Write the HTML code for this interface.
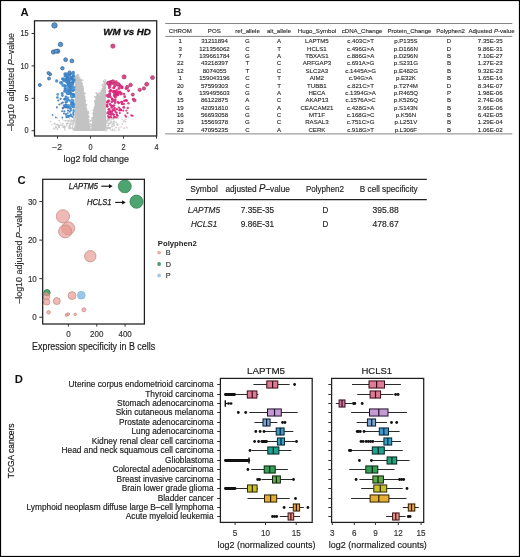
<!DOCTYPE html>
<html><head><meta charset="utf-8"><style>
html,body{margin:0;padding:0;background:#fff;}
svg{display:block;font-family:"Liberation Sans", sans-serif;will-change:transform;}
</style></head><body>
<svg width="520" height="557" viewBox="0 0 520 557">
<rect x="0" y="0" width="520" height="557" fill="#fff"/>
<text x="20.6" y="15.6" font-size="11.3" text-anchor="start" font-weight="bold" font-style="normal" fill="#111">A</text>
<text x="173.3" y="15.8" font-size="11.3" text-anchor="start" font-weight="bold" font-style="normal" fill="#111">B</text>
<text x="17.5" y="183.5" font-size="11.3" text-anchor="start" font-weight="bold" font-style="normal" fill="#111">C</text>
<text x="14.8" y="383.0" font-size="11.3" text-anchor="start" font-weight="bold" font-style="normal" fill="#111">D</text>
<polygon points="74.7,131 74.7,77.5 76.3,75.5 78.3,76.5 80.5,79 82.3,82.5 83.5,89 84.8,98 86.5,107 88.3,116 89.6,123 90.4,129.5 91.2,129.5 92.2,122 93.3,114 94.6,105 95.6,98 96.6,93.5 97.6,92.5 98.6,94.5 99.6,96 101.2,92 102.8,87.5 104.2,83 105.4,80 106.2,79.5 106.2,131" fill="#c3c3c3"/>
<circle cx="75.9" cy="76.1" r="0.69" fill="#c4c4c4"/>
<circle cx="74.5" cy="76.9" r="0.93" fill="#c4c4c4"/>
<circle cx="75.5" cy="76.2" r="0.71" fill="#c4c4c4"/>
<circle cx="76.2" cy="75.7" r="0.82" fill="#c4c4c4"/>
<circle cx="78.0" cy="75.2" r="1.00" fill="#c4c4c4"/>
<circle cx="78.6" cy="76.2" r="0.62" fill="#c4c4c4"/>
<circle cx="78.2" cy="74.8" r="0.97" fill="#c4c4c4"/>
<circle cx="79.8" cy="77.0" r="0.70" fill="#c4c4c4"/>
<circle cx="79.8" cy="78.5" r="0.68" fill="#c4c4c4"/>
<circle cx="81.1" cy="80.9" r="0.66" fill="#c4c4c4"/>
<circle cx="81.1" cy="80.0" r="0.94" fill="#c4c4c4"/>
<circle cx="82.6" cy="80.2" r="0.82" fill="#c4c4c4"/>
<circle cx="82.5" cy="87.2" r="0.84" fill="#c4c4c4"/>
<circle cx="82.4" cy="83.3" r="0.66" fill="#c4c4c4"/>
<circle cx="83.2" cy="88.3" r="0.84" fill="#c4c4c4"/>
<circle cx="83.2" cy="86.1" r="0.66" fill="#c4c4c4"/>
<circle cx="82.4" cy="85.2" r="0.64" fill="#c4c4c4"/>
<circle cx="82.5" cy="88.2" r="0.72" fill="#c4c4c4"/>
<circle cx="84.3" cy="96.8" r="0.94" fill="#c4c4c4"/>
<circle cx="84.5" cy="97.2" r="0.66" fill="#c4c4c4"/>
<circle cx="83.5" cy="90.5" r="0.67" fill="#c4c4c4"/>
<circle cx="84.5" cy="96.2" r="0.75" fill="#c4c4c4"/>
<circle cx="84.9" cy="93.2" r="0.95" fill="#c4c4c4"/>
<circle cx="83.9" cy="93.9" r="0.90" fill="#c4c4c4"/>
<circle cx="82.6" cy="89.5" r="0.65" fill="#c4c4c4"/>
<circle cx="84.5" cy="97.1" r="0.81" fill="#c4c4c4"/>
<circle cx="85.7" cy="105.4" r="0.87" fill="#c4c4c4"/>
<circle cx="85.3" cy="101.1" r="0.96" fill="#c4c4c4"/>
<circle cx="84.3" cy="99.3" r="0.90" fill="#c4c4c4"/>
<circle cx="86.4" cy="104.7" r="0.93" fill="#c4c4c4"/>
<circle cx="84.9" cy="97.7" r="0.81" fill="#c4c4c4"/>
<circle cx="85.2" cy="104.8" r="0.75" fill="#c4c4c4"/>
<circle cx="83.9" cy="100.1" r="0.83" fill="#c4c4c4"/>
<circle cx="85.5" cy="100.0" r="0.78" fill="#c4c4c4"/>
<circle cx="88.2" cy="115.6" r="0.96" fill="#c4c4c4"/>
<circle cx="88.6" cy="113.3" r="0.95" fill="#c4c4c4"/>
<circle cx="86.8" cy="109.8" r="0.77" fill="#c4c4c4"/>
<circle cx="88.1" cy="111.7" r="0.92" fill="#c4c4c4"/>
<circle cx="87.3" cy="113.1" r="0.73" fill="#c4c4c4"/>
<circle cx="86.3" cy="110.0" r="0.69" fill="#c4c4c4"/>
<circle cx="87.4" cy="115.5" r="0.79" fill="#c4c4c4"/>
<circle cx="87.4" cy="111.9" r="0.98" fill="#c4c4c4"/>
<circle cx="88.9" cy="119.3" r="0.67" fill="#c4c4c4"/>
<circle cx="88.0" cy="116.3" r="0.93" fill="#c4c4c4"/>
<circle cx="90.2" cy="120.8" r="0.92" fill="#c4c4c4"/>
<circle cx="89.1" cy="121.8" r="0.62" fill="#c4c4c4"/>
<circle cx="88.2" cy="116.2" r="0.70" fill="#c4c4c4"/>
<circle cx="88.8" cy="116.9" r="0.84" fill="#c4c4c4"/>
<circle cx="90.4" cy="124.0" r="0.72" fill="#c4c4c4"/>
<circle cx="90.9" cy="129.7" r="0.86" fill="#c4c4c4"/>
<circle cx="89.2" cy="127.6" r="0.62" fill="#c4c4c4"/>
<circle cx="91.6" cy="129.2" r="0.62" fill="#c4c4c4"/>
<circle cx="90.4" cy="124.5" r="0.85" fill="#c4c4c4"/>
<circle cx="89.1" cy="126.7" r="0.92" fill="#c4c4c4"/>
<circle cx="90.3" cy="129.5" r="0.68" fill="#c4c4c4"/>
<circle cx="91.7" cy="124.5" r="0.64" fill="#c4c4c4"/>
<circle cx="91.8" cy="124.8" r="0.92" fill="#c4c4c4"/>
<circle cx="90.8" cy="126.4" r="0.96" fill="#c4c4c4"/>
<circle cx="91.6" cy="128.5" r="0.69" fill="#c4c4c4"/>
<circle cx="92.4" cy="125.2" r="0.70" fill="#c4c4c4"/>
<circle cx="91.3" cy="126.6" r="0.75" fill="#c4c4c4"/>
<circle cx="91.1" cy="129.3" r="0.75" fill="#c4c4c4"/>
<circle cx="92.1" cy="117.6" r="0.70" fill="#c4c4c4"/>
<circle cx="92.2" cy="120.3" r="0.90" fill="#c4c4c4"/>
<circle cx="92.2" cy="118.2" r="0.91" fill="#c4c4c4"/>
<circle cx="92.3" cy="121.0" r="0.63" fill="#c4c4c4"/>
<circle cx="93.3" cy="114.0" r="0.93" fill="#c4c4c4"/>
<circle cx="93.6" cy="116.2" r="0.95" fill="#c4c4c4"/>
<circle cx="91.7" cy="120.2" r="0.89" fill="#c4c4c4"/>
<circle cx="94.8" cy="107.3" r="0.75" fill="#c4c4c4"/>
<circle cx="93.3" cy="113.5" r="0.68" fill="#c4c4c4"/>
<circle cx="93.5" cy="112.4" r="0.96" fill="#c4c4c4"/>
<circle cx="94.5" cy="112.5" r="0.86" fill="#c4c4c4"/>
<circle cx="95.3" cy="108.2" r="0.94" fill="#c4c4c4"/>
<circle cx="94.4" cy="107.2" r="0.67" fill="#c4c4c4"/>
<circle cx="94.3" cy="108.2" r="0.78" fill="#c4c4c4"/>
<circle cx="93.4" cy="110.2" r="0.94" fill="#c4c4c4"/>
<circle cx="95.2" cy="101.0" r="0.89" fill="#c4c4c4"/>
<circle cx="95.6" cy="102.1" r="0.75" fill="#c4c4c4"/>
<circle cx="94.8" cy="102.9" r="0.66" fill="#c4c4c4"/>
<circle cx="95.9" cy="99.5" r="0.65" fill="#c4c4c4"/>
<circle cx="95.8" cy="104.1" r="0.83" fill="#c4c4c4"/>
<circle cx="95.0" cy="101.2" r="0.97" fill="#c4c4c4"/>
<circle cx="95.6" cy="96.9" r="0.79" fill="#c4c4c4"/>
<circle cx="94.8" cy="97.1" r="0.89" fill="#c4c4c4"/>
<circle cx="96.8" cy="97.0" r="0.96" fill="#c4c4c4"/>
<circle cx="97.9" cy="93.7" r="0.69" fill="#c4c4c4"/>
<circle cx="96.3" cy="93.4" r="0.65" fill="#c4c4c4"/>
<circle cx="96.1" cy="92.7" r="0.67" fill="#c4c4c4"/>
<circle cx="98.1" cy="94.0" r="0.71" fill="#c4c4c4"/>
<circle cx="98.1" cy="93.7" r="0.76" fill="#c4c4c4"/>
<circle cx="100.7" cy="96.1" r="0.65" fill="#c4c4c4"/>
<circle cx="99.0" cy="93.3" r="0.69" fill="#c4c4c4"/>
<circle cx="101.6" cy="92.0" r="0.80" fill="#c4c4c4"/>
<circle cx="100.6" cy="92.8" r="0.84" fill="#c4c4c4"/>
<circle cx="99.2" cy="94.9" r="0.95" fill="#c4c4c4"/>
<circle cx="100.0" cy="93.0" r="0.88" fill="#c4c4c4"/>
<circle cx="103.3" cy="88.9" r="0.72" fill="#c4c4c4"/>
<circle cx="101.4" cy="91.0" r="0.97" fill="#c4c4c4"/>
<circle cx="101.1" cy="89.9" r="0.66" fill="#c4c4c4"/>
<circle cx="102.7" cy="88.5" r="0.83" fill="#c4c4c4"/>
<circle cx="104.2" cy="83.6" r="0.88" fill="#c4c4c4"/>
<circle cx="102.9" cy="84.0" r="0.77" fill="#c4c4c4"/>
<circle cx="102.4" cy="85.3" r="0.87" fill="#c4c4c4"/>
<circle cx="102.8" cy="86.4" r="0.63" fill="#c4c4c4"/>
<circle cx="105.0" cy="81.9" r="0.79" fill="#c4c4c4"/>
<circle cx="103.5" cy="81.5" r="0.89" fill="#c4c4c4"/>
<circle cx="105.1" cy="83.0" r="0.97" fill="#c4c4c4"/>
<circle cx="105.1" cy="79.9" r="0.82" fill="#c4c4c4"/>
<circle cx="121.3" cy="126.9" r="0.67" fill="#e3cfd6"/>
<circle cx="69.8" cy="123.6" r="0.86" fill="#e3cfd6"/>
<circle cx="54.2" cy="123.4" r="0.82" fill="#e3cfd6"/>
<circle cx="123.5" cy="120.9" r="0.74" fill="#cfcfcf"/>
<circle cx="55.8" cy="124.6" r="0.76" fill="#e3cfd6"/>
<circle cx="61.9" cy="125.2" r="0.89" fill="#cfcfcf"/>
<circle cx="54.7" cy="123.7" r="0.85" fill="#cfcfcf"/>
<circle cx="116.1" cy="117.8" r="0.80" fill="#cfcfcf"/>
<circle cx="123.5" cy="121.7" r="0.75" fill="#cfcfcf"/>
<circle cx="113.7" cy="125.9" r="0.75" fill="#e3cfd6"/>
<circle cx="117.6" cy="124.8" r="0.80" fill="#e3cfd6"/>
<circle cx="52.1" cy="124.7" r="0.69" fill="#e3cfd6"/>
<circle cx="57.3" cy="129.0" r="0.90" fill="#cfcfcf"/>
<circle cx="62.2" cy="127.2" r="0.75" fill="#e3cfd6"/>
<circle cx="62.7" cy="119.1" r="0.76" fill="#cfcfcf"/>
<circle cx="120.1" cy="127.2" r="0.71" fill="#e3cfd6"/>
<circle cx="107.6" cy="119.6" r="0.89" fill="#cfcfcf"/>
<circle cx="107.8" cy="120.3" r="0.69" fill="#e3cfd6"/>
<circle cx="58.5" cy="126.4" r="0.77" fill="#cfcfcf"/>
<circle cx="58.7" cy="127.2" r="0.94" fill="#cfcfcf"/>
<circle cx="112.7" cy="129.1" r="0.75" fill="#e3cfd6"/>
<circle cx="56.7" cy="127.3" r="0.65" fill="#cfcfcf"/>
<circle cx="118.7" cy="116.9" r="0.83" fill="#e3cfd6"/>
<circle cx="125.8" cy="119.4" r="0.72" fill="#cfcfcf"/>
<circle cx="118.7" cy="128.0" r="0.75" fill="#e3cfd6"/>
<circle cx="71.4" cy="128.1" r="0.66" fill="#cfcfcf"/>
<circle cx="106.8" cy="127.4" r="0.66" fill="#cfcfcf"/>
<circle cx="106.6" cy="123.5" r="0.66" fill="#cfcfcf"/>
<circle cx="110.9" cy="121.3" r="0.74" fill="#cfcfcf"/>
<circle cx="127.1" cy="127.8" r="0.92" fill="#e3cfd6"/>
<circle cx="107.4" cy="120.6" r="0.81" fill="#e3cfd6"/>
<circle cx="111.6" cy="116.5" r="0.91" fill="#cfcfcf"/>
<circle cx="74.0" cy="118.2" r="0.92" fill="#e3cfd6"/>
<circle cx="59.2" cy="120.6" r="0.84" fill="#cfcfcf"/>
<circle cx="59.3" cy="125.3" r="0.78" fill="#cfcfcf"/>
<circle cx="124.7" cy="120.2" r="0.75" fill="#e3cfd6"/>
<circle cx="114.8" cy="128.9" r="0.65" fill="#cfcfcf"/>
<circle cx="113.9" cy="123.7" r="0.92" fill="#cfcfcf"/>
<circle cx="57.4" cy="117.9" r="0.74" fill="#cfcfcf"/>
<circle cx="126.3" cy="126.6" r="0.65" fill="#e3cfd6"/>
<circle cx="69.4" cy="126.2" r="0.93" fill="#cfcfcf"/>
<circle cx="124.1" cy="128.2" r="0.89" fill="#cfcfcf"/>
<circle cx="107.1" cy="122.2" r="0.90" fill="#cfcfcf"/>
<circle cx="113.2" cy="119.2" r="0.81" fill="#cfcfcf"/>
<circle cx="117.8" cy="117.8" r="0.70" fill="#e3cfd6"/>
<circle cx="122.4" cy="119.5" r="0.73" fill="#e3cfd6"/>
<circle cx="64.9" cy="129.7" r="0.94" fill="#e3cfd6"/>
<circle cx="111.4" cy="119.6" r="0.70" fill="#cfcfcf"/>
<circle cx="63.4" cy="125.9" r="0.71" fill="#cfcfcf"/>
<circle cx="111.8" cy="126.2" r="0.66" fill="#cfcfcf"/>
<circle cx="111.7" cy="119.5" r="0.92" fill="#cfcfcf"/>
<circle cx="60.2" cy="122.8" r="0.63" fill="#cfcfcf"/>
<circle cx="118.3" cy="118.6" r="0.62" fill="#cfcfcf"/>
<circle cx="128.3" cy="117.7" r="0.60" fill="#cfcfcf"/>
<circle cx="55.4" cy="129.0" r="0.69" fill="#e3cfd6"/>
<circle cx="62.8" cy="123.6" r="0.94" fill="#cfcfcf"/>
<circle cx="64.8" cy="127.9" r="0.63" fill="#cfcfcf"/>
<circle cx="50.4" cy="121.8" r="0.83" fill="#cfcfcf"/>
<circle cx="125.4" cy="121.7" r="0.88" fill="#cfcfcf"/>
<circle cx="111.2" cy="121.7" r="0.77" fill="#cfcfcf"/>
<circle cx="114.1" cy="125.1" r="0.86" fill="#c8c8c8"/>
<circle cx="70.3" cy="124.1" r="1.03" fill="#d6d6d6"/>
<circle cx="74.1" cy="130.6" r="0.78" fill="#c8c8c8"/>
<circle cx="112.5" cy="124.5" r="1.00" fill="#c8c8c8"/>
<circle cx="74.4" cy="129.0" r="0.82" fill="#d6d6d6"/>
<circle cx="59.1" cy="127.1" r="0.90" fill="#c8c8c8"/>
<circle cx="70.0" cy="127.9" r="0.89" fill="#c8c8c8"/>
<circle cx="112.2" cy="126.5" r="0.80" fill="#c8c8c8"/>
<circle cx="106.9" cy="127.4" r="0.80" fill="#c8c8c8"/>
<circle cx="75.4" cy="121.9" r="0.75" fill="#d6d6d6"/>
<circle cx="105.5" cy="129.1" r="1.08" fill="#c8c8c8"/>
<circle cx="117.4" cy="124.8" r="0.93" fill="#d6d6d6"/>
<circle cx="122.4" cy="124.0" r="1.01" fill="#d6d6d6"/>
<circle cx="108.5" cy="116.9" r="0.85" fill="#d6d6d6"/>
<circle cx="59.3" cy="127.6" r="0.76" fill="#c8c8c8"/>
<circle cx="116.2" cy="122.2" r="0.79" fill="#c8c8c8"/>
<circle cx="72.5" cy="126.1" r="0.77" fill="#c8c8c8"/>
<circle cx="107.7" cy="121.2" r="0.86" fill="#c8c8c8"/>
<circle cx="66.7" cy="123.7" r="0.98" fill="#c8c8c8"/>
<circle cx="110.6" cy="127.7" r="0.81" fill="#c8c8c8"/>
<circle cx="110.1" cy="122.9" r="0.98" fill="#c8c8c8"/>
<circle cx="73.4" cy="122.4" r="0.78" fill="#c8c8c8"/>
<circle cx="74.9" cy="127.6" r="0.70" fill="#c8c8c8"/>
<circle cx="110.7" cy="130.0" r="0.71" fill="#c8c8c8"/>
<circle cx="73.9" cy="129.3" r="1.06" fill="#c8c8c8"/>
<circle cx="58.4" cy="125.4" r="0.95" fill="#c8c8c8"/>
<circle cx="74.3" cy="122.0" r="0.71" fill="#d6d6d6"/>
<circle cx="73.8" cy="118.6" r="0.88" fill="#c8c8c8"/>
<circle cx="75.2" cy="120.8" r="0.82" fill="#c8c8c8"/>
<circle cx="62.5" cy="123.8" r="1.05" fill="#d6d6d6"/>
<circle cx="74.8" cy="129.1" r="1.10" fill="#c8c8c8"/>
<circle cx="72.9" cy="124.2" r="1.08" fill="#c8c8c8"/>
<circle cx="74.6" cy="120.0" r="0.78" fill="#d6d6d6"/>
<circle cx="64.3" cy="126.2" r="0.92" fill="#c8c8c8"/>
<circle cx="69.2" cy="127.3" r="0.92" fill="#c8c8c8"/>
<circle cx="69.8" cy="128.5" r="1.08" fill="#c8c8c8"/>
<circle cx="57.1" cy="124.6" r="0.99" fill="#c8c8c8"/>
<circle cx="114.2" cy="121.6" r="0.85" fill="#c8c8c8"/>
<circle cx="73.4" cy="129.5" r="1.08" fill="#d6d6d6"/>
<circle cx="113.6" cy="118.8" r="1.05" fill="#d6d6d6"/>
<circle cx="108.2" cy="123.6" r="0.75" fill="#c8c8c8"/>
<circle cx="114.9" cy="130.5" r="0.75" fill="#c8c8c8"/>
<circle cx="110.0" cy="128.1" r="0.82" fill="#c8c8c8"/>
<circle cx="71.2" cy="120.6" r="1.06" fill="#c8c8c8"/>
<circle cx="73.6" cy="129.2" r="1.10" fill="#c8c8c8"/>
<circle cx="68.7" cy="128.1" r="0.73" fill="#c8c8c8"/>
<circle cx="114.2" cy="121.5" r="0.92" fill="#c8c8c8"/>
<circle cx="73.6" cy="118.1" r="0.90" fill="#c8c8c8"/>
<circle cx="108.8" cy="127.8" r="0.99" fill="#c8c8c8"/>
<circle cx="71.4" cy="121.4" r="0.91" fill="#d6d6d6"/>
<circle cx="65.8" cy="120.8" r="0.98" fill="#c8c8c8"/>
<circle cx="113.4" cy="118.1" r="0.73" fill="#c8c8c8"/>
<circle cx="69.3" cy="126.5" r="0.94" fill="#d6d6d6"/>
<circle cx="112.5" cy="130.0" r="1.08" fill="#c8c8c8"/>
<circle cx="109.0" cy="119.9" r="1.06" fill="#c8c8c8"/>
<circle cx="74.0" cy="128.6" r="0.82" fill="#c8c8c8"/>
<circle cx="109.6" cy="123.5" r="0.88" fill="#d6d6d6"/>
<circle cx="74.4" cy="119.9" r="0.99" fill="#c8c8c8"/>
<circle cx="70.7" cy="121.9" r="0.71" fill="#c8c8c8"/>
<circle cx="70.3" cy="123.9" r="0.96" fill="#c8c8c8"/>
<circle cx="74.7" cy="129.9" r="0.85" fill="#c8c8c8"/>
<circle cx="112.8" cy="124.9" r="1.05" fill="#d6d6d6"/>
<circle cx="64.1" cy="120.8" r="0.75" fill="#d6d6d6"/>
<circle cx="55.8" cy="127.0" r="1.01" fill="#c8c8c8"/>
<circle cx="107.4" cy="128.9" r="0.89" fill="#c8c8c8"/>
<circle cx="67.7" cy="123.2" r="1.02" fill="#c8c8c8"/>
<circle cx="75.5" cy="125.5" r="0.86" fill="#c8c8c8"/>
<circle cx="105.5" cy="128.7" r="0.98" fill="#c8c8c8"/>
<circle cx="105.8" cy="130.7" r="1.09" fill="#d6d6d6"/>
<circle cx="74.1" cy="121.1" r="1.04" fill="#c8c8c8"/>
<circle cx="63.7" cy="127.1" r="0.92" fill="#c8c8c8"/>
<circle cx="106.9" cy="125.4" r="0.75" fill="#d6d6d6"/>
<circle cx="74.7" cy="120.8" r="0.74" fill="#c8c8c8"/>
<circle cx="73.8" cy="120.4" r="0.72" fill="#c8c8c8"/>
<circle cx="118.3" cy="130.1" r="0.77" fill="#c8c8c8"/>
<circle cx="74.4" cy="126.8" r="0.98" fill="#d6d6d6"/>
<circle cx="71.7" cy="124.2" r="0.95" fill="#d6d6d6"/>
<circle cx="108.6" cy="124.2" r="0.85" fill="#c8c8c8"/>
<circle cx="66.7" cy="125.4" r="1.03" fill="#d6d6d6"/>
<circle cx="75.1" cy="125.0" r="0.96" fill="#d6d6d6"/>
<circle cx="68.3" cy="120.9" r="1.05" fill="#c8c8c8"/>
<circle cx="107.4" cy="121.0" r="0.72" fill="#d6d6d6"/>
<circle cx="111.0" cy="122.6" r="0.97" fill="#c8c8c8"/>
<circle cx="108.2" cy="119.7" r="1.00" fill="#c8c8c8"/>
<circle cx="69.7" cy="118.7" r="0.72" fill="#d6d6d6"/>
<circle cx="70.1" cy="125.8" r="0.91" fill="#c8c8c8"/>
<circle cx="113.2" cy="121.9" r="0.94" fill="#c8c8c8"/>
<circle cx="108.4" cy="127.6" r="0.73" fill="#c8c8c8"/>
<circle cx="117.5" cy="124.4" r="1.06" fill="#c8c8c8"/>
<circle cx="53.9" cy="128.5" r="0.99" fill="#d6d6d6"/>
<circle cx="72.4" cy="122.6" r="0.82" fill="#d6d6d6"/>
<circle cx="107.5" cy="118.1" r="0.94" fill="#d6d6d6"/>
<circle cx="119.1" cy="129.4" r="0.95" fill="#d6d6d6"/>
<circle cx="72.4" cy="120.7" r="1.02" fill="#c8c8c8"/>
<circle cx="109.3" cy="128.3" r="1.00" fill="#c8c8c8"/>
<circle cx="69.8" cy="120.5" r="1.08" fill="#d6d6d6"/>
<circle cx="106.6" cy="121.0" r="1.03" fill="#c8c8c8"/>
<circle cx="108.1" cy="125.7" r="0.90" fill="#c8c8c8"/>
<circle cx="60.5" cy="125.3" r="0.79" fill="#c8c8c8"/>
<circle cx="75.5" cy="119.5" r="0.90" fill="#d6d6d6"/>
<circle cx="64.4" cy="128.3" r="0.82" fill="#d6d6d6"/>
<circle cx="75.4" cy="116.9" r="0.96" fill="#c8c8c8"/>
<circle cx="64.8" cy="127.1" r="1.07" fill="#c8c8c8"/>
<circle cx="112.2" cy="123.9" r="0.72" fill="#d6d6d6"/>
<circle cx="71.0" cy="121.3" r="0.70" fill="#d6d6d6"/>
<circle cx="70.6" cy="123.2" r="0.97" fill="#d6d6d6"/>
<circle cx="109.6" cy="128.1" r="0.78" fill="#c8c8c8"/>
<circle cx="106.5" cy="127.7" r="0.88" fill="#c8c8c8"/>
<circle cx="72.3" cy="127.7" r="0.97" fill="#c8c8c8"/>
<circle cx="116.3" cy="127.6" r="1.00" fill="#d6d6d6"/>
<circle cx="71.2" cy="116.2" r="1.07" fill="#3b82c4" fill-opacity="0.9"/>
<circle cx="68.0" cy="75.8" r="1.70" fill="#3b82c4" fill-opacity="0.9"/>
<circle cx="66.8" cy="101.6" r="1.30" fill="#3b82c4" fill-opacity="0.9"/>
<circle cx="65.9" cy="102.3" r="1.29" fill="#3b82c4" fill-opacity="0.9"/>
<circle cx="73.7" cy="111.5" r="1.15" fill="#4f97d2" fill-opacity="0.9"/>
<circle cx="66.8" cy="101.1" r="1.31" fill="#4f97d2" fill-opacity="0.9"/>
<circle cx="70.6" cy="114.7" r="1.10" fill="#3b82c4" fill-opacity="0.9"/>
<circle cx="72.4" cy="86.5" r="1.53" fill="#3b82c4" fill-opacity="0.9"/>
<circle cx="70.0" cy="73.9" r="1.73" fill="#3b82c4" fill-opacity="0.9"/>
<circle cx="62.2" cy="93.5" r="1.42" fill="#3b82c4" fill-opacity="0.9"/>
<circle cx="52.6" cy="114.9" r="0.93" fill="#4a78a8" fill-opacity="0.9"/>
<circle cx="60.6" cy="98.9" r="1.14" fill="#4a78a8" fill-opacity="0.9"/>
<circle cx="63.9" cy="80.7" r="1.62" fill="#3b82c4" fill-opacity="0.9"/>
<circle cx="67.0" cy="81.1" r="1.62" fill="#3b82c4" fill-opacity="0.9"/>
<circle cx="72.8" cy="105.6" r="1.24" fill="#3b82c4" fill-opacity="0.9"/>
<circle cx="62.5" cy="78.8" r="1.65" fill="#4f97d2" fill-opacity="0.9"/>
<circle cx="68.1" cy="116.6" r="1.07" fill="#4f97d2" fill-opacity="0.9"/>
<circle cx="69.6" cy="87.9" r="1.51" fill="#4f97d2" fill-opacity="0.9"/>
<circle cx="68.0" cy="78.6" r="1.65" fill="#3b82c4" fill-opacity="0.9"/>
<circle cx="65.9" cy="96.8" r="1.37" fill="#3b82c4" fill-opacity="0.9"/>
<circle cx="62.9" cy="102.5" r="1.09" fill="#4a78a8" fill-opacity="0.9"/>
<circle cx="62.1" cy="111.3" r="0.98" fill="#4a78a8" fill-opacity="0.9"/>
<circle cx="73.1" cy="96.7" r="1.37" fill="#4f97d2" fill-opacity="0.9"/>
<circle cx="66.6" cy="73.9" r="1.73" fill="#4f97d2" fill-opacity="0.9"/>
<circle cx="68.6" cy="105.5" r="1.24" fill="#3b82c4" fill-opacity="0.9"/>
<circle cx="74.0" cy="80.0" r="1.63" fill="#3b82c4" fill-opacity="0.9"/>
<circle cx="61.5" cy="103.4" r="1.08" fill="#4a78a8" fill-opacity="0.9"/>
<circle cx="62.3" cy="117.5" r="0.90" fill="#4a78a8" fill-opacity="0.9"/>
<circle cx="71.4" cy="79.0" r="1.65" fill="#3b82c4" fill-opacity="0.9"/>
<circle cx="64.0" cy="107.6" r="1.02" fill="#4a78a8" fill-opacity="0.9"/>
<circle cx="73.6" cy="94.5" r="1.41" fill="#3b82c4" fill-opacity="0.9"/>
<circle cx="58.3" cy="100.5" r="1.12" fill="#4a78a8" fill-opacity="0.9"/>
<circle cx="64.8" cy="99.3" r="1.33" fill="#3b82c4" fill-opacity="0.9"/>
<circle cx="68.8" cy="100.3" r="1.32" fill="#3b82c4" fill-opacity="0.9"/>
<circle cx="73.8" cy="89.7" r="1.48" fill="#3b82c4" fill-opacity="0.9"/>
<circle cx="67.5" cy="81.7" r="1.61" fill="#3b82c4" fill-opacity="0.9"/>
<circle cx="64.1" cy="85.4" r="1.55" fill="#4f97d2" fill-opacity="0.9"/>
<circle cx="56.7" cy="80.9" r="1.62" fill="#3b82c4" fill-opacity="0.9"/>
<circle cx="68.0" cy="110.6" r="1.16" fill="#3b82c4" fill-opacity="0.9"/>
<circle cx="73.4" cy="106.0" r="1.23" fill="#3b82c4" fill-opacity="0.9"/>
<circle cx="72.6" cy="116.8" r="1.06" fill="#3b82c4" fill-opacity="0.9"/>
<circle cx="60.6" cy="82.6" r="1.59" fill="#3b82c4" fill-opacity="0.9"/>
<circle cx="73.2" cy="79.7" r="1.64" fill="#3b82c4" fill-opacity="0.9"/>
<circle cx="64.1" cy="105.6" r="1.24" fill="#3b82c4" fill-opacity="0.9"/>
<circle cx="68.4" cy="93.3" r="1.43" fill="#3b82c4" fill-opacity="0.9"/>
<circle cx="70.9" cy="93.6" r="1.42" fill="#3b82c4" fill-opacity="0.9"/>
<circle cx="65.5" cy="85.7" r="1.54" fill="#4f97d2" fill-opacity="0.9"/>
<circle cx="65.8" cy="114.6" r="1.10" fill="#4f97d2" fill-opacity="0.9"/>
<circle cx="67.2" cy="105.4" r="1.24" fill="#3b82c4" fill-opacity="0.9"/>
<circle cx="73.0" cy="94.3" r="1.41" fill="#3b82c4" fill-opacity="0.9"/>
<circle cx="72.9" cy="101.2" r="1.30" fill="#4f97d2" fill-opacity="0.9"/>
<circle cx="68.8" cy="116.0" r="1.08" fill="#3b82c4" fill-opacity="0.9"/>
<circle cx="66.6" cy="117.2" r="1.06" fill="#4f97d2" fill-opacity="0.9"/>
<circle cx="67.4" cy="93.4" r="1.43" fill="#3b82c4" fill-opacity="0.9"/>
<circle cx="70.0" cy="76.9" r="1.68" fill="#4f97d2" fill-opacity="0.9"/>
<circle cx="67.4" cy="98.8" r="1.34" fill="#3b82c4" fill-opacity="0.9"/>
<circle cx="70.8" cy="87.7" r="1.51" fill="#4f97d2" fill-opacity="0.9"/>
<circle cx="72.7" cy="87.1" r="1.52" fill="#3b82c4" fill-opacity="0.9"/>
<circle cx="57.7" cy="94.4" r="1.41" fill="#4f97d2" fill-opacity="0.9"/>
<circle cx="71.8" cy="97.4" r="1.36" fill="#4f97d2" fill-opacity="0.9"/>
<circle cx="73.0" cy="105.6" r="1.24" fill="#3b82c4" fill-opacity="0.9"/>
<circle cx="56.9" cy="107.4" r="1.03" fill="#4a78a8" fill-opacity="0.9"/>
<circle cx="70.5" cy="88.3" r="1.50" fill="#3b82c4" fill-opacity="0.9"/>
<circle cx="70.8" cy="108.8" r="1.19" fill="#4f97d2" fill-opacity="0.9"/>
<circle cx="71.7" cy="77.7" r="1.67" fill="#3b82c4" fill-opacity="0.9"/>
<circle cx="69.5" cy="79.7" r="1.64" fill="#3b82c4" fill-opacity="0.9"/>
<circle cx="64.6" cy="91.2" r="1.46" fill="#3b82c4" fill-opacity="0.9"/>
<circle cx="67.3" cy="82.3" r="1.60" fill="#3b82c4" fill-opacity="0.9"/>
<circle cx="62.4" cy="95.6" r="1.39" fill="#3b82c4" fill-opacity="0.9"/>
<circle cx="70.8" cy="110.4" r="1.16" fill="#3b82c4" fill-opacity="0.9"/>
<circle cx="73.2" cy="106.5" r="1.22" fill="#4f97d2" fill-opacity="0.9"/>
<circle cx="62.8" cy="108.4" r="1.01" fill="#4a78a8" fill-opacity="0.9"/>
<circle cx="64.8" cy="106.8" r="1.22" fill="#3b82c4" fill-opacity="0.9"/>
<circle cx="73.9" cy="87.2" r="1.52" fill="#4f97d2" fill-opacity="0.9"/>
<circle cx="66.1" cy="98.2" r="1.35" fill="#3b82c4" fill-opacity="0.9"/>
<circle cx="70.4" cy="106.9" r="1.22" fill="#4f97d2" fill-opacity="0.9"/>
<circle cx="70.2" cy="108.4" r="1.19" fill="#3b82c4" fill-opacity="0.9"/>
<circle cx="65.8" cy="105.1" r="1.25" fill="#4f97d2" fill-opacity="0.9"/>
<circle cx="72.9" cy="90.7" r="1.47" fill="#3b82c4" fill-opacity="0.9"/>
<circle cx="73.2" cy="113.1" r="1.12" fill="#3b82c4" fill-opacity="0.9"/>
<circle cx="73.3" cy="74.9" r="1.71" fill="#4f97d2" fill-opacity="0.9"/>
<circle cx="67.8" cy="107.2" r="1.21" fill="#3b82c4" fill-opacity="0.9"/>
<circle cx="71.2" cy="114.9" r="1.09" fill="#4f97d2" fill-opacity="0.9"/>
<circle cx="73.2" cy="103.0" r="1.28" fill="#3b82c4" fill-opacity="0.9"/>
<circle cx="73.3" cy="95.1" r="1.40" fill="#3b82c4" fill-opacity="0.9"/>
<circle cx="68.8" cy="86.5" r="1.53" fill="#3b82c4" fill-opacity="0.9"/>
<circle cx="68.5" cy="81.6" r="1.61" fill="#3b82c4" fill-opacity="0.9"/>
<circle cx="66.7" cy="75.6" r="1.70" fill="#3b82c4" fill-opacity="0.9"/>
<circle cx="67.4" cy="76.9" r="1.68" fill="#4f97d2" fill-opacity="0.9"/>
<circle cx="65.9" cy="113.8" r="1.11" fill="#4f97d2" fill-opacity="0.9"/>
<circle cx="68.4" cy="107.2" r="1.21" fill="#3b82c4" fill-opacity="0.9"/>
<circle cx="65.2" cy="76.0" r="1.69" fill="#3b82c4" fill-opacity="0.9"/>
<circle cx="67.1" cy="115.8" r="1.08" fill="#3b82c4" fill-opacity="0.9"/>
<circle cx="62.8" cy="107.8" r="1.02" fill="#4a78a8" fill-opacity="0.9"/>
<circle cx="55.9" cy="117.4" r="0.90" fill="#4a78a8" fill-opacity="0.9"/>
<circle cx="67.7" cy="113.4" r="1.12" fill="#4f97d2" fill-opacity="0.9"/>
<circle cx="64.4" cy="111.3" r="1.15" fill="#3b82c4" fill-opacity="0.9"/>
<circle cx="70.1" cy="86.3" r="1.54" fill="#3b82c4" fill-opacity="0.9"/>
<circle cx="72.9" cy="106.8" r="1.22" fill="#3b82c4" fill-opacity="0.9"/>
<circle cx="68.0" cy="76.7" r="1.68" fill="#4f97d2" fill-opacity="0.9"/>
<circle cx="64.9" cy="86.3" r="1.54" fill="#3b82c4" fill-opacity="0.9"/>
<circle cx="70.8" cy="101.9" r="1.29" fill="#4f97d2" fill-opacity="0.9"/>
<circle cx="65.8" cy="91.5" r="1.46" fill="#4f97d2" fill-opacity="0.9"/>
<circle cx="66.6" cy="81.0" r="1.62" fill="#3b82c4" fill-opacity="0.9"/>
<circle cx="65.9" cy="81.1" r="1.61" fill="#4f97d2" fill-opacity="0.9"/>
<circle cx="62.9" cy="85.5" r="1.55" fill="#4f97d2" fill-opacity="0.9"/>
<circle cx="71.1" cy="94.1" r="1.42" fill="#3b82c4" fill-opacity="0.9"/>
<circle cx="68.0" cy="97.8" r="1.36" fill="#4f97d2" fill-opacity="0.9"/>
<circle cx="68.6" cy="117.0" r="1.06" fill="#4f97d2" fill-opacity="0.9"/>
<circle cx="59.4" cy="104.5" r="1.07" fill="#4a78a8" fill-opacity="0.9"/>
<circle cx="72.4" cy="84.3" r="1.57" fill="#3b82c4" fill-opacity="0.9"/>
<circle cx="66.0" cy="79.9" r="1.63" fill="#3b82c4" fill-opacity="0.9"/>
<circle cx="68.0" cy="82.3" r="1.60" fill="#3b82c4" fill-opacity="0.9"/>
<circle cx="71.5" cy="100.3" r="1.32" fill="#4f97d2" fill-opacity="0.9"/>
<circle cx="72.0" cy="102.7" r="1.28" fill="#3b82c4" fill-opacity="0.9"/>
<circle cx="67.5" cy="93.4" r="1.43" fill="#3b82c4" fill-opacity="0.9"/>
<circle cx="65.1" cy="73.9" r="1.73" fill="#3b82c4" fill-opacity="0.9"/>
<circle cx="69.0" cy="93.6" r="1.42" fill="#3b82c4" fill-opacity="0.9"/>
<circle cx="66.3" cy="98.1" r="1.35" fill="#4f97d2" fill-opacity="0.9"/>
<circle cx="70.6" cy="93.3" r="1.43" fill="#3b82c4" fill-opacity="0.9"/>
<circle cx="71.6" cy="86.3" r="1.54" fill="#4f97d2" fill-opacity="0.9"/>
<circle cx="72.6" cy="82.1" r="1.60" fill="#4f97d2" fill-opacity="0.9"/>
<circle cx="64.6" cy="99.1" r="1.34" fill="#3b82c4" fill-opacity="0.9"/>
<circle cx="73.5" cy="107.2" r="1.21" fill="#3b82c4" fill-opacity="0.9"/>
<circle cx="61.6" cy="83.0" r="1.59" fill="#3b82c4" fill-opacity="0.9"/>
<circle cx="65.9" cy="104.8" r="1.25" fill="#3b82c4" fill-opacity="0.9"/>
<circle cx="73.9" cy="96.4" r="1.38" fill="#3b82c4" fill-opacity="0.9"/>
<circle cx="68.3" cy="92.5" r="1.44" fill="#4f97d2" fill-opacity="0.9"/>
<circle cx="72.2" cy="94.2" r="1.41" fill="#3b82c4" fill-opacity="0.9"/>
<circle cx="69.9" cy="74.1" r="1.72" fill="#3b82c4" fill-opacity="0.9"/>
<circle cx="61.6" cy="83.2" r="1.58" fill="#4f97d2" fill-opacity="0.9"/>
<circle cx="73.3" cy="76.2" r="1.69" fill="#3b82c4" fill-opacity="0.9"/>
<circle cx="71.5" cy="84.0" r="1.57" fill="#4f97d2" fill-opacity="0.9"/>
<circle cx="71.5" cy="90.4" r="1.47" fill="#3b82c4" fill-opacity="0.9"/>
<circle cx="66.6" cy="92.6" r="1.44" fill="#4f97d2" fill-opacity="0.9"/>
<circle cx="68.7" cy="84.3" r="1.57" fill="#4f97d2" fill-opacity="0.9"/>
<circle cx="69.2" cy="82.8" r="1.59" fill="#3b82c4" fill-opacity="0.9"/>
<circle cx="73.8" cy="104.3" r="1.26" fill="#3b82c4" fill-opacity="0.9"/>
<circle cx="69.3" cy="116.1" r="1.07" fill="#3b82c4" fill-opacity="0.9"/>
<circle cx="63.4" cy="79.1" r="1.65" fill="#3b82c4" fill-opacity="0.9"/>
<circle cx="65.9" cy="106.6" r="1.22" fill="#3b82c4" fill-opacity="0.9"/>
<circle cx="67.6" cy="88.1" r="1.51" fill="#4f97d2" fill-opacity="0.9"/>
<circle cx="73.3" cy="106.4" r="1.23" fill="#4f97d2" fill-opacity="0.9"/>
<circle cx="73.0" cy="100.2" r="1.32" fill="#4f97d2" fill-opacity="0.9"/>
<circle cx="71.3" cy="96.0" r="1.39" fill="#4f97d2" fill-opacity="0.9"/>
<circle cx="73.6" cy="110.2" r="1.17" fill="#4f97d2" fill-opacity="0.9"/>
<circle cx="69.2" cy="91.2" r="1.46" fill="#3b82c4" fill-opacity="0.9"/>
<circle cx="70.4" cy="83.5" r="1.58" fill="#4f97d2" fill-opacity="0.9"/>
<circle cx="71.4" cy="106.0" r="1.23" fill="#4f97d2" fill-opacity="0.9"/>
<circle cx="71.6" cy="78.3" r="1.66" fill="#3b82c4" fill-opacity="0.9"/>
<circle cx="57.4" cy="97.5" r="1.36" fill="#3b82c4" fill-opacity="0.9"/>
<circle cx="66.1" cy="107.3" r="1.21" fill="#3b82c4" fill-opacity="0.9"/>
<circle cx="73.5" cy="114.8" r="1.09" fill="#3b82c4" fill-opacity="0.9"/>
<circle cx="65.2" cy="88.2" r="1.51" fill="#4f97d2" fill-opacity="0.9"/>
<circle cx="72.9" cy="89.0" r="1.49" fill="#4f97d2" fill-opacity="0.9"/>
<circle cx="68.6" cy="81.5" r="1.61" fill="#3b82c4" fill-opacity="0.9"/>
<circle cx="69.8" cy="73.3" r="1.74" fill="#3b82c4" fill-opacity="0.9"/>
<circle cx="73.1" cy="82.0" r="1.60" fill="#3b82c4" fill-opacity="0.9"/>
<circle cx="66.5" cy="116.9" r="1.06" fill="#3b82c4" fill-opacity="0.9"/>
<circle cx="68.5" cy="106.1" r="1.23" fill="#4f97d2" fill-opacity="0.9"/>
<circle cx="71.1" cy="104.2" r="1.26" fill="#3b82c4" fill-opacity="0.9"/>
<circle cx="69.3" cy="82.6" r="1.59" fill="#3b82c4" fill-opacity="0.9"/>
<circle cx="66.2" cy="79.1" r="1.65" fill="#3b82c4" fill-opacity="0.9"/>
<circle cx="67.8" cy="107.2" r="1.21" fill="#3b82c4" fill-opacity="0.9"/>
<circle cx="68.2" cy="84.7" r="1.56" fill="#3b82c4" fill-opacity="0.9"/>
<circle cx="70.1" cy="86.3" r="1.54" fill="#3b82c4" fill-opacity="0.9"/>
<circle cx="63.9" cy="113.5" r="0.95" fill="#4a78a8" fill-opacity="0.9"/>
<circle cx="68.6" cy="89.0" r="1.49" fill="#4f97d2" fill-opacity="0.9"/>
<circle cx="67.6" cy="76.9" r="1.68" fill="#3b82c4" fill-opacity="0.9"/>
<circle cx="67.5" cy="90.8" r="1.47" fill="#3b82c4" fill-opacity="0.9"/>
<circle cx="65.3" cy="89.4" r="1.49" fill="#3b82c4" fill-opacity="0.9"/>
<circle cx="70.2" cy="90.3" r="1.47" fill="#3b82c4" fill-opacity="0.9"/>
<circle cx="69.7" cy="111.7" r="1.14" fill="#3b82c4" fill-opacity="0.9"/>
<circle cx="72.0" cy="83.0" r="1.59" fill="#3b82c4" fill-opacity="0.9"/>
<circle cx="73.2" cy="72.5" r="1.75" fill="#3b82c4" fill-opacity="0.9"/>
<circle cx="108.1" cy="112.2" r="1.14" fill="#e0207a" fill-opacity="0.9"/>
<circle cx="110.7" cy="90.4" r="1.47" fill="#e0207a" fill-opacity="0.9"/>
<circle cx="116.1" cy="81.9" r="1.60" fill="#e0207a" fill-opacity="0.9"/>
<circle cx="112.1" cy="111.4" r="1.15" fill="#e0207a" fill-opacity="0.9"/>
<circle cx="113.7" cy="87.8" r="1.51" fill="#e0207a" fill-opacity="0.9"/>
<circle cx="114.3" cy="95.4" r="1.39" fill="#e0207a" fill-opacity="0.9"/>
<circle cx="118.4" cy="92.7" r="1.44" fill="#e0207a" fill-opacity="0.9"/>
<circle cx="109.4" cy="87.4" r="1.52" fill="#e0207a" fill-opacity="0.9"/>
<circle cx="117.0" cy="115.0" r="1.09" fill="#e0207a" fill-opacity="0.9"/>
<circle cx="119.8" cy="113.1" r="1.12" fill="#cf3a7e" fill-opacity="0.9"/>
<circle cx="107.0" cy="95.6" r="1.39" fill="#cf3a7e" fill-opacity="0.9"/>
<circle cx="116.6" cy="112.6" r="1.13" fill="#e0207a" fill-opacity="0.9"/>
<circle cx="120.9" cy="110.2" r="1.17" fill="#e0207a" fill-opacity="0.9"/>
<circle cx="131.3" cy="115.3" r="1.09" fill="#e0207a" fill-opacity="0.9"/>
<circle cx="111.9" cy="106.7" r="1.22" fill="#e0207a" fill-opacity="0.9"/>
<circle cx="114.7" cy="101.1" r="1.31" fill="#e0207a" fill-opacity="0.9"/>
<circle cx="114.8" cy="117.0" r="1.06" fill="#cf3a7e" fill-opacity="0.9"/>
<circle cx="111.6" cy="107.6" r="1.21" fill="#cf3a7e" fill-opacity="0.9"/>
<circle cx="115.2" cy="96.1" r="1.38" fill="#e0207a" fill-opacity="0.9"/>
<circle cx="121.9" cy="86.7" r="1.53" fill="#e0207a" fill-opacity="0.9"/>
<circle cx="116.7" cy="117.4" r="1.06" fill="#cf3a7e" fill-opacity="0.9"/>
<circle cx="110.5" cy="116.8" r="1.06" fill="#cf3a7e" fill-opacity="0.9"/>
<circle cx="113.8" cy="114.7" r="1.10" fill="#e0207a" fill-opacity="0.9"/>
<circle cx="114.6" cy="108.0" r="1.20" fill="#e0207a" fill-opacity="0.9"/>
<circle cx="124.7" cy="96.7" r="1.38" fill="#e0207a" fill-opacity="0.9"/>
<circle cx="113.7" cy="114.9" r="1.09" fill="#cf3a7e" fill-opacity="0.9"/>
<circle cx="126.1" cy="88.5" r="1.50" fill="#e0207a" fill-opacity="0.9"/>
<circle cx="113.1" cy="100.8" r="1.31" fill="#cf3a7e" fill-opacity="0.9"/>
<circle cx="117.7" cy="102.1" r="1.29" fill="#e0207a" fill-opacity="0.9"/>
<circle cx="110.1" cy="112.0" r="1.14" fill="#e0207a" fill-opacity="0.9"/>
<circle cx="127.5" cy="113.1" r="1.12" fill="#cf3a7e" fill-opacity="0.9"/>
<circle cx="119.8" cy="92.0" r="1.45" fill="#e0207a" fill-opacity="0.9"/>
<circle cx="128.4" cy="103.3" r="1.27" fill="#cf3a7e" fill-opacity="0.9"/>
<circle cx="108.3" cy="96.8" r="1.37" fill="#e0207a" fill-opacity="0.9"/>
<circle cx="110.5" cy="97.0" r="1.37" fill="#e0207a" fill-opacity="0.9"/>
<circle cx="123.2" cy="110.6" r="1.16" fill="#e0207a" fill-opacity="0.9"/>
<circle cx="112.3" cy="99.0" r="1.34" fill="#e0207a" fill-opacity="0.9"/>
<circle cx="107.3" cy="106.6" r="1.22" fill="#e0207a" fill-opacity="0.9"/>
<circle cx="116.4" cy="93.3" r="1.43" fill="#cf3a7e" fill-opacity="0.9"/>
<circle cx="119.0" cy="88.3" r="1.50" fill="#e0207a" fill-opacity="0.9"/>
<circle cx="114.8" cy="85.9" r="1.54" fill="#e0207a" fill-opacity="0.9"/>
<circle cx="114.6" cy="100.3" r="1.32" fill="#cf3a7e" fill-opacity="0.9"/>
<circle cx="112.7" cy="114.2" r="1.10" fill="#e0207a" fill-opacity="0.9"/>
<circle cx="114.8" cy="91.5" r="1.45" fill="#e0207a" fill-opacity="0.9"/>
<circle cx="118.9" cy="107.6" r="1.21" fill="#cf3a7e" fill-opacity="0.9"/>
<circle cx="107.4" cy="102.5" r="1.29" fill="#e0207a" fill-opacity="0.9"/>
<circle cx="132.5" cy="115.8" r="1.08" fill="#e0207a" fill-opacity="0.9"/>
<circle cx="109.6" cy="85.4" r="1.55" fill="#e0207a" fill-opacity="0.9"/>
<circle cx="120.2" cy="109.3" r="1.18" fill="#cf3a7e" fill-opacity="0.9"/>
<circle cx="116.5" cy="113.9" r="1.11" fill="#cf3a7e" fill-opacity="0.9"/>
<circle cx="114.3" cy="94.0" r="1.42" fill="#cf3a7e" fill-opacity="0.9"/>
<circle cx="111.7" cy="101.7" r="1.30" fill="#e0207a" fill-opacity="0.9"/>
<circle cx="120.2" cy="85.7" r="1.54" fill="#e0207a" fill-opacity="0.9"/>
<circle cx="112.7" cy="110.0" r="1.17" fill="#e0207a" fill-opacity="0.9"/>
<circle cx="112.0" cy="99.1" r="1.34" fill="#e0207a" fill-opacity="0.9"/>
<circle cx="125.3" cy="115.5" r="1.08" fill="#e0207a" fill-opacity="0.9"/>
<circle cx="109.7" cy="117.4" r="1.06" fill="#e0207a" fill-opacity="0.9"/>
<circle cx="126.1" cy="116.8" r="1.07" fill="#e0207a" fill-opacity="0.9"/>
<circle cx="112.1" cy="81.7" r="1.61" fill="#cf3a7e" fill-opacity="0.9"/>
<circle cx="109.8" cy="91.5" r="1.46" fill="#e0207a" fill-opacity="0.9"/>
<circle cx="115.1" cy="102.7" r="1.28" fill="#cf3a7e" fill-opacity="0.9"/>
<circle cx="107.1" cy="106.0" r="1.23" fill="#e0207a" fill-opacity="0.9"/>
<circle cx="109.7" cy="82.0" r="1.60" fill="#e0207a" fill-opacity="0.9"/>
<circle cx="126.1" cy="100.3" r="1.32" fill="#e0207a" fill-opacity="0.9"/>
<circle cx="123.6" cy="107.4" r="1.21" fill="#e0207a" fill-opacity="0.9"/>
<circle cx="114.4" cy="116.7" r="1.07" fill="#e0207a" fill-opacity="0.9"/>
<circle cx="113.4" cy="117.6" r="1.05" fill="#cf3a7e" fill-opacity="0.9"/>
<circle cx="114.0" cy="105.5" r="1.24" fill="#e0207a" fill-opacity="0.9"/>
<circle cx="115.9" cy="95.4" r="1.40" fill="#cf3a7e" fill-opacity="0.9"/>
<circle cx="121.2" cy="102.3" r="1.29" fill="#cf3a7e" fill-opacity="0.9"/>
<circle cx="133.3" cy="99.2" r="1.34" fill="#e0207a" fill-opacity="0.9"/>
<circle cx="109.6" cy="83.9" r="1.57" fill="#e0207a" fill-opacity="0.9"/>
<circle cx="109.4" cy="109.6" r="1.18" fill="#cf3a7e" fill-opacity="0.9"/>
<circle cx="126.5" cy="100.8" r="1.31" fill="#e0207a" fill-opacity="0.9"/>
<circle cx="112.9" cy="91.5" r="1.46" fill="#e0207a" fill-opacity="0.9"/>
<circle cx="108.6" cy="112.7" r="1.13" fill="#cf3a7e" fill-opacity="0.9"/>
<circle cx="127.8" cy="107.9" r="1.20" fill="#cf3a7e" fill-opacity="0.9"/>
<circle cx="117.0" cy="94.0" r="1.42" fill="#cf3a7e" fill-opacity="0.9"/>
<circle cx="108.2" cy="95.5" r="1.39" fill="#cf3a7e" fill-opacity="0.9"/>
<circle cx="121.3" cy="93.5" r="1.42" fill="#e0207a" fill-opacity="0.9"/>
<circle cx="115.2" cy="91.1" r="1.46" fill="#e0207a" fill-opacity="0.9"/>
<circle cx="108.6" cy="117.6" r="1.05" fill="#e0207a" fill-opacity="0.9"/>
<circle cx="114.4" cy="92.1" r="1.45" fill="#e0207a" fill-opacity="0.9"/>
<circle cx="117.7" cy="115.6" r="1.08" fill="#e0207a" fill-opacity="0.9"/>
<circle cx="128.5" cy="90.8" r="1.47" fill="#e0207a" fill-opacity="0.9"/>
<circle cx="111.4" cy="83.1" r="1.59" fill="#e0207a" fill-opacity="0.9"/>
<circle cx="121.9" cy="87.7" r="1.51" fill="#e0207a" fill-opacity="0.9"/>
<circle cx="113.6" cy="109.3" r="1.18" fill="#cf3a7e" fill-opacity="0.9"/>
<circle cx="117.8" cy="92.7" r="1.44" fill="#e0207a" fill-opacity="0.9"/>
<circle cx="114.9" cy="96.7" r="1.38" fill="#e0207a" fill-opacity="0.9"/>
<circle cx="117.1" cy="115.3" r="1.09" fill="#cf3a7e" fill-opacity="0.9"/>
<circle cx="121.9" cy="102.0" r="1.29" fill="#e0207a" fill-opacity="0.9"/>
<circle cx="119.1" cy="84.3" r="1.57" fill="#e0207a" fill-opacity="0.9"/>
<circle cx="109.9" cy="93.9" r="1.42" fill="#cf3a7e" fill-opacity="0.9"/>
<circle cx="108.0" cy="116.0" r="1.08" fill="#e0207a" fill-opacity="0.9"/>
<circle cx="111.0" cy="117.4" r="1.06" fill="#cf3a7e" fill-opacity="0.9"/>
<circle cx="107.1" cy="105.1" r="1.24" fill="#e0207a" fill-opacity="0.9"/>
<circle cx="108.8" cy="100.7" r="1.31" fill="#e0207a" fill-opacity="0.9"/>
<circle cx="114.7" cy="83.6" r="1.58" fill="#cf3a7e" fill-opacity="0.9"/>
<circle cx="124.3" cy="100.7" r="1.31" fill="#e0207a" fill-opacity="0.9"/>
<circle cx="108.8" cy="114.0" r="1.11" fill="#e0207a" fill-opacity="0.9"/>
<circle cx="115.0" cy="117.5" r="1.05" fill="#cf3a7e" fill-opacity="0.9"/>
<circle cx="120.7" cy="94.2" r="1.41" fill="#cf3a7e" fill-opacity="0.9"/>
<circle cx="115.5" cy="97.5" r="1.36" fill="#cf3a7e" fill-opacity="0.9"/>
<circle cx="109.2" cy="84.6" r="1.56" fill="#cf3a7e" fill-opacity="0.9"/>
<circle cx="114.8" cy="110.3" r="1.17" fill="#e0207a" fill-opacity="0.9"/>
<circle cx="107.4" cy="113.2" r="1.12" fill="#cf3a7e" fill-opacity="0.9"/>
<circle cx="112.0" cy="113.0" r="1.12" fill="#cf3a7e" fill-opacity="0.9"/>
<circle cx="126.4" cy="110.6" r="1.16" fill="#cf3a7e" fill-opacity="0.9"/>
<circle cx="109.8" cy="103.9" r="1.26" fill="#e0207a" fill-opacity="0.9"/>
<circle cx="108.4" cy="82.3" r="1.60" fill="#cf3a7e" fill-opacity="0.9"/>
<circle cx="116.5" cy="93.8" r="1.42" fill="#e0207a" fill-opacity="0.9"/>
<circle cx="116.8" cy="109.3" r="1.18" fill="#e0207a" fill-opacity="0.9"/>
<circle cx="108.7" cy="109.3" r="1.18" fill="#cf3a7e" fill-opacity="0.9"/>
<circle cx="109.5" cy="94.8" r="1.40" fill="#cf3a7e" fill-opacity="0.9"/>
<circle cx="124.0" cy="107.3" r="1.21" fill="#cf3a7e" fill-opacity="0.9"/>
<circle cx="122.0" cy="104.1" r="1.26" fill="#cf3a7e" fill-opacity="0.9"/>
<circle cx="111.1" cy="81.6" r="1.61" fill="#e0207a" fill-opacity="0.9"/>
<circle cx="112.6" cy="106.0" r="1.23" fill="#e0207a" fill-opacity="0.9"/>
<circle cx="120.7" cy="109.9" r="1.17" fill="#e0207a" fill-opacity="0.9"/>
<circle cx="109.5" cy="94.3" r="1.41" fill="#cf3a7e" fill-opacity="0.9"/>
<circle cx="110.4" cy="111.3" r="1.15" fill="#e0207a" fill-opacity="0.9"/>
<circle cx="118.8" cy="103.0" r="1.28" fill="#e0207a" fill-opacity="0.9"/>
<circle cx="113.1" cy="83.3" r="1.58" fill="#cf3a7e" fill-opacity="0.9"/>
<circle cx="110.9" cy="105.3" r="1.24" fill="#e0207a" fill-opacity="0.9"/>
<circle cx="116.9" cy="90.5" r="1.47" fill="#cf3a7e" fill-opacity="0.9"/>
<circle cx="109.2" cy="109.7" r="1.17" fill="#e0207a" fill-opacity="0.9"/>
<circle cx="117.9" cy="84.9" r="1.56" fill="#e0207a" fill-opacity="0.9"/>
<circle cx="123.6" cy="103.9" r="1.26" fill="#e0207a" fill-opacity="0.9"/>
<circle cx="119.3" cy="110.3" r="1.17" fill="#e0207a" fill-opacity="0.9"/>
<circle cx="107.8" cy="101.4" r="1.30" fill="#e0207a" fill-opacity="0.9"/>
<circle cx="111.0" cy="113.3" r="1.12" fill="#e0207a" fill-opacity="0.9"/>
<circle cx="110.0" cy="114.4" r="1.10" fill="#e0207a" fill-opacity="0.9"/>
<circle cx="115.3" cy="100.0" r="1.32" fill="#cf3a7e" fill-opacity="0.9"/>
<circle cx="111.0" cy="114.9" r="1.09" fill="#cf3a7e" fill-opacity="0.9"/>
<circle cx="117.8" cy="95.0" r="1.40" fill="#e0207a" fill-opacity="0.9"/>
<circle cx="123.9" cy="94.1" r="1.41" fill="#cf3a7e" fill-opacity="0.9"/>
<circle cx="115.4" cy="111.9" r="1.14" fill="#cf3a7e" fill-opacity="0.9"/>
<circle cx="109.5" cy="95.4" r="1.40" fill="#cf3a7e" fill-opacity="0.9"/>
<circle cx="110.1" cy="84.9" r="1.56" fill="#cf3a7e" fill-opacity="0.9"/>
<circle cx="54.5" cy="25.4" r="2.70" fill="#5d95c8" stroke="#356a9c" stroke-width="0.8"/>
<circle cx="60.5" cy="44.4" r="2.20" fill="#5d95c8" stroke="#356a9c" stroke-width="0.8"/>
<circle cx="53.4" cy="52.0" r="2.10" fill="#5d95c8" stroke="#356a9c" stroke-width="0.8"/>
<circle cx="57.8" cy="51.2" r="2.10" fill="#5d95c8" stroke="#356a9c" stroke-width="0.8"/>
<circle cx="56.0" cy="51.2" r="2.00" fill="#5d95c8" stroke="#356a9c" stroke-width="0.8"/>
<circle cx="65.6" cy="59.7" r="1.90" fill="#5d95c8" stroke="#356a9c" stroke-width="0.8"/>
<circle cx="71.9" cy="60.9" r="1.90" fill="#5d95c8" stroke="#356a9c" stroke-width="0.8"/>
<circle cx="62.4" cy="68.3" r="1.70" fill="#5d95c8" stroke="#356a9c" stroke-width="0.8"/>
<circle cx="69.5" cy="72.5" r="1.60" fill="#5d95c8" stroke="#356a9c" stroke-width="0.8"/>
<circle cx="50.1" cy="74.3" r="1.50" fill="#5d95c8" stroke="#356a9c" stroke-width="0.8"/>
<circle cx="39.8" cy="85.0" r="1.50" fill="#5d95c8" stroke="#356a9c" stroke-width="0.8"/>
<circle cx="48.5" cy="73.0" r="1.50" fill="#5d95c8" stroke="#356a9c" stroke-width="0.8"/>
<circle cx="49.0" cy="78.5" r="1.50" fill="#5d95c8" stroke="#356a9c" stroke-width="0.8"/>
<circle cx="112.9" cy="46.1" r="2.15" fill="#dc4a88" stroke="#b02e66" stroke-width="0.7"/>
<circle cx="124.1" cy="76.9" r="2.05" fill="#dc4a88" stroke="#b02e66" stroke-width="0.7"/>
<circle cx="152.5" cy="77.6" r="1.95" fill="#dc4a88" stroke="#b02e66" stroke-width="0.7"/>
<circle cx="146.7" cy="84.2" r="1.95" fill="#dc4a88" stroke="#b02e66" stroke-width="0.7"/>
<circle cx="143.9" cy="88.4" r="1.65" fill="#dc4a88" stroke="#b02e66" stroke-width="0.7"/>
<circle cx="139.7" cy="89.8" r="1.65" fill="#dc4a88" stroke="#b02e66" stroke-width="0.7"/>
<circle cx="130.6" cy="84.9" r="1.75" fill="#dc4a88" stroke="#b02e66" stroke-width="0.7"/>
<circle cx="113.0" cy="81.5" r="1.75" fill="#dc4a88" stroke="#b02e66" stroke-width="0.7"/>
<circle cx="108.2" cy="83.5" r="1.65" fill="#dc4a88" stroke="#b02e66" stroke-width="0.7"/>
<circle cx="118.1" cy="84.2" r="1.75" fill="#dc4a88" stroke="#b02e66" stroke-width="0.7"/>
<circle cx="127.3" cy="87.0" r="1.65" fill="#dc4a88" stroke="#b02e66" stroke-width="0.7"/>
<circle cx="132.8" cy="94.6" r="1.55" fill="#dc4a88" stroke="#b02e66" stroke-width="0.7"/>
<circle cx="134.5" cy="100.2" r="1.55" fill="#dc4a88" stroke="#b02e66" stroke-width="0.7"/>
<rect x="34.5" y="20.8" width="122.19999999999999" height="115.2" fill="none" stroke="#1e1e1e" stroke-width="1.25"/>
<text x="150.8" y="35.2" font-size="9.0" text-anchor="end" font-weight="bold" font-style="italic" fill="#111" textLength="47.5" lengthAdjust="spacingAndGlyphs" stroke="#111" stroke-width="0.3">WM vs HD</text>
<line x1="31.6" y1="130.7" x2="34.5" y2="130.7" stroke="#333" stroke-width="1"/>
<text x="28.6" y="133.39999999999998" font-size="8.18" text-anchor="end" font-weight="normal" font-style="normal" fill="#333" textLength="4.06" lengthAdjust="spacingAndGlyphs" stroke="#333" stroke-width="0.18">0</text>
<line x1="31.6" y1="98.29999999999998" x2="34.5" y2="98.29999999999998" stroke="#333" stroke-width="1"/>
<text x="28.6" y="100.99999999999999" font-size="8.18" text-anchor="end" font-weight="normal" font-style="normal" fill="#333" textLength="4.06" lengthAdjust="spacingAndGlyphs" stroke="#333" stroke-width="0.18">5</text>
<line x1="31.6" y1="65.89999999999998" x2="34.5" y2="65.89999999999998" stroke="#333" stroke-width="1"/>
<text x="28.6" y="68.59999999999998" font-size="8.18" text-anchor="end" font-weight="normal" font-style="normal" fill="#333" textLength="8.12" lengthAdjust="spacingAndGlyphs" stroke="#333" stroke-width="0.18">10</text>
<line x1="31.6" y1="33.499999999999986" x2="34.5" y2="33.499999999999986" stroke="#333" stroke-width="1"/>
<text x="28.6" y="36.19999999999999" font-size="8.18" text-anchor="end" font-weight="normal" font-style="normal" fill="#333" textLength="8.12" lengthAdjust="spacingAndGlyphs" stroke="#333" stroke-width="0.18">15</text>
<line x1="57.5" y1="136.0" x2="57.5" y2="138.6" stroke="#333" stroke-width="1"/>
<text x="57.1" y="149.5" font-size="8.18" text-anchor="middle" font-weight="normal" font-style="normal" fill="#333" textLength="9.8" lengthAdjust="spacingAndGlyphs" stroke="#333" stroke-width="0.18">−2</text>
<line x1="90.5" y1="136.0" x2="90.5" y2="138.6" stroke="#333" stroke-width="1"/>
<text x="90.5" y="149.5" font-size="8.18" text-anchor="middle" font-weight="normal" font-style="normal" fill="#333" textLength="4.06" lengthAdjust="spacingAndGlyphs" stroke="#333" stroke-width="0.18">0</text>
<line x1="123.5" y1="136.0" x2="123.5" y2="138.6" stroke="#333" stroke-width="1"/>
<text x="123.5" y="149.5" font-size="8.18" text-anchor="middle" font-weight="normal" font-style="normal" fill="#333" textLength="4.06" lengthAdjust="spacingAndGlyphs" stroke="#333" stroke-width="0.18">2</text>
<line x1="156.5" y1="136.0" x2="156.5" y2="138.6" stroke="#333" stroke-width="1"/>
<text x="156.5" y="149.5" font-size="8.18" text-anchor="middle" font-weight="normal" font-style="normal" fill="#333" textLength="4.06" lengthAdjust="spacingAndGlyphs" stroke="#333" stroke-width="0.18">4</text>
<text x="96.2" y="161.8" font-size="9.97" text-anchor="middle" font-weight="normal" font-style="normal" fill="#222" textLength="65.3" lengthAdjust="spacingAndGlyphs" stroke="#222" stroke-width="0.18">log2 fold change</text>
<text transform="translate(14.0,81.9) rotate(-90)" font-size="9.6" text-anchor="middle" fill="#222" stroke="#222" stroke-width="0.1" textLength="98" lengthAdjust="spacingAndGlyphs">–log10 adjusted <tspan font-style="italic">P</tspan>–value</text>
<line x1="165.2" y1="23.5" x2="512.3" y2="23.5" stroke="#777" stroke-width="0.9"/>
<line x1="165.2" y1="36.4" x2="512.3" y2="36.4" stroke="#777" stroke-width="0.9"/>
<line x1="165.2" y1="133.9" x2="512.3" y2="133.9" stroke="#777" stroke-width="0.9"/>
<text x="180.3" y="32.6" font-size="6.1" text-anchor="middle" font-weight="normal" font-style="normal" fill="#2a2a2a" stroke="#2a2a2a" stroke-width="0.12">CHROM</text>
<text x="214.3" y="32.6" font-size="6.1" text-anchor="middle" font-weight="normal" font-style="normal" fill="#2a2a2a" stroke="#2a2a2a" stroke-width="0.12">POS</text>
<text x="247.5" y="32.6" font-size="6.1" text-anchor="middle" font-weight="normal" font-style="normal" fill="#2a2a2a" stroke="#2a2a2a" stroke-width="0.12">ref_allele</text>
<text x="279.0" y="32.6" font-size="6.1" text-anchor="middle" font-weight="normal" font-style="normal" fill="#2a2a2a" stroke="#2a2a2a" stroke-width="0.12">alt_allele</text>
<text x="317.0" y="32.6" font-size="6.1" text-anchor="middle" font-weight="normal" font-style="normal" fill="#2a2a2a" stroke="#2a2a2a" stroke-width="0.12">Hugo_Symbol</text>
<text x="362.1" y="32.6" font-size="6.1" text-anchor="middle" font-weight="normal" font-style="normal" fill="#2a2a2a" stroke="#2a2a2a" stroke-width="0.12">cDNA_Change</text>
<text x="409.5" y="32.6" font-size="6.1" text-anchor="middle" font-weight="normal" font-style="normal" fill="#2a2a2a" stroke="#2a2a2a" stroke-width="0.12">Protein_Change</text>
<text x="450.6" y="32.6" font-size="6.1" text-anchor="middle" font-weight="normal" font-style="normal" fill="#2a2a2a" stroke="#2a2a2a" stroke-width="0.12">Polyphen2</text>
<text x="491.6" y="32.6" font-size="6.1" text-anchor="middle" fill="#2a2a2a" stroke="#2a2a2a" stroke-width="0.12">Adjusted <tspan font-style="italic">P</tspan>-value</text>
<text x="180.3" y="43.4" font-size="6.1" text-anchor="middle" font-weight="normal" font-style="normal" fill="#2a2a2a" stroke="#2a2a2a" stroke-width="0.12">1</text>
<text x="214.5" y="43.4" font-size="6.1" text-anchor="middle" font-weight="normal" font-style="normal" fill="#2a2a2a" stroke="#2a2a2a" stroke-width="0.12">31211894</text>
<text x="247.4" y="43.4" font-size="6.1" text-anchor="middle" font-weight="normal" font-style="normal" fill="#2a2a2a" stroke="#2a2a2a" stroke-width="0.12">G</text>
<text x="279.0" y="43.4" font-size="6.1" text-anchor="middle" font-weight="normal" font-style="normal" fill="#2a2a2a" stroke="#2a2a2a" stroke-width="0.12">A</text>
<text x="316.9" y="43.4" font-size="6.1" text-anchor="middle" font-weight="normal" font-style="normal" fill="#2a2a2a" stroke="#2a2a2a" stroke-width="0.12">LAPTM5</text>
<text x="360.6" y="43.4" font-size="6.1" text-anchor="middle" font-weight="normal" font-style="normal" fill="#2a2a2a" stroke="#2a2a2a" stroke-width="0.12">c.403C&gt;T</text>
<text x="405.9" y="43.4" font-size="6.1" text-anchor="middle" font-weight="normal" font-style="normal" fill="#2a2a2a" stroke="#2a2a2a" stroke-width="0.12">p.P135S</text>
<text x="449.0" y="43.4" font-size="6.1" text-anchor="middle" font-weight="normal" font-style="normal" fill="#2a2a2a" stroke="#2a2a2a" stroke-width="0.12">D</text>
<text x="490.2" y="43.4" font-size="6.1" text-anchor="middle" font-weight="normal" font-style="normal" fill="#2a2a2a" stroke="#2a2a2a" stroke-width="0.12">7.35E-35</text>
<text x="180.3" y="50.75" font-size="6.1" text-anchor="middle" font-weight="normal" font-style="normal" fill="#2a2a2a" stroke="#2a2a2a" stroke-width="0.12">3</text>
<text x="214.5" y="50.75" font-size="6.1" text-anchor="middle" font-weight="normal" font-style="normal" fill="#2a2a2a" stroke="#2a2a2a" stroke-width="0.12">121356062</text>
<text x="247.4" y="50.75" font-size="6.1" text-anchor="middle" font-weight="normal" font-style="normal" fill="#2a2a2a" stroke="#2a2a2a" stroke-width="0.12">C</text>
<text x="279.0" y="50.75" font-size="6.1" text-anchor="middle" font-weight="normal" font-style="normal" fill="#2a2a2a" stroke="#2a2a2a" stroke-width="0.12">T</text>
<text x="316.9" y="50.75" font-size="6.1" text-anchor="middle" font-weight="normal" font-style="normal" fill="#2a2a2a" stroke="#2a2a2a" stroke-width="0.12">HCLS1</text>
<text x="360.6" y="50.75" font-size="6.1" text-anchor="middle" font-weight="normal" font-style="normal" fill="#2a2a2a" stroke="#2a2a2a" stroke-width="0.12">c.496G&gt;A</text>
<text x="405.9" y="50.75" font-size="6.1" text-anchor="middle" font-weight="normal" font-style="normal" fill="#2a2a2a" stroke="#2a2a2a" stroke-width="0.12">p.D166N</text>
<text x="449.0" y="50.75" font-size="6.1" text-anchor="middle" font-weight="normal" font-style="normal" fill="#2a2a2a" stroke="#2a2a2a" stroke-width="0.12">D</text>
<text x="490.2" y="50.75" font-size="6.1" text-anchor="middle" font-weight="normal" font-style="normal" fill="#2a2a2a" stroke="#2a2a2a" stroke-width="0.12">9.86E-31</text>
<text x="180.3" y="58.1" font-size="6.1" text-anchor="middle" font-weight="normal" font-style="normal" fill="#2a2a2a" stroke="#2a2a2a" stroke-width="0.12">7</text>
<text x="214.5" y="58.1" font-size="6.1" text-anchor="middle" font-weight="normal" font-style="normal" fill="#2a2a2a" stroke="#2a2a2a" stroke-width="0.12">139661784</text>
<text x="247.4" y="58.1" font-size="6.1" text-anchor="middle" font-weight="normal" font-style="normal" fill="#2a2a2a" stroke="#2a2a2a" stroke-width="0.12">G</text>
<text x="279.0" y="58.1" font-size="6.1" text-anchor="middle" font-weight="normal" font-style="normal" fill="#2a2a2a" stroke="#2a2a2a" stroke-width="0.12">A</text>
<text x="316.9" y="58.1" font-size="6.1" text-anchor="middle" font-weight="normal" font-style="normal" fill="#2a2a2a" stroke="#2a2a2a" stroke-width="0.12">TBXAS1</text>
<text x="360.6" y="58.1" font-size="6.1" text-anchor="middle" font-weight="normal" font-style="normal" fill="#2a2a2a" stroke="#2a2a2a" stroke-width="0.12">c.886G&gt;A</text>
<text x="405.9" y="58.1" font-size="6.1" text-anchor="middle" font-weight="normal" font-style="normal" fill="#2a2a2a" stroke="#2a2a2a" stroke-width="0.12">p.D296N</text>
<text x="449.0" y="58.1" font-size="6.1" text-anchor="middle" font-weight="normal" font-style="normal" fill="#2a2a2a" stroke="#2a2a2a" stroke-width="0.12">B</text>
<text x="490.2" y="58.1" font-size="6.1" text-anchor="middle" font-weight="normal" font-style="normal" fill="#2a2a2a" stroke="#2a2a2a" stroke-width="0.12">7.10E-27</text>
<text x="180.3" y="65.45" font-size="6.1" text-anchor="middle" font-weight="normal" font-style="normal" fill="#2a2a2a" stroke="#2a2a2a" stroke-width="0.12">22</text>
<text x="214.5" y="65.45" font-size="6.1" text-anchor="middle" font-weight="normal" font-style="normal" fill="#2a2a2a" stroke="#2a2a2a" stroke-width="0.12">43218397</text>
<text x="247.4" y="65.45" font-size="6.1" text-anchor="middle" font-weight="normal" font-style="normal" fill="#2a2a2a" stroke="#2a2a2a" stroke-width="0.12">T</text>
<text x="279.0" y="65.45" font-size="6.1" text-anchor="middle" font-weight="normal" font-style="normal" fill="#2a2a2a" stroke="#2a2a2a" stroke-width="0.12">C</text>
<text x="316.9" y="65.45" font-size="6.1" text-anchor="middle" font-weight="normal" font-style="normal" fill="#2a2a2a" stroke="#2a2a2a" stroke-width="0.12">ARFGAP3</text>
<text x="360.6" y="65.45" font-size="6.1" text-anchor="middle" font-weight="normal" font-style="normal" fill="#2a2a2a" stroke="#2a2a2a" stroke-width="0.12">c.691A&gt;G</text>
<text x="405.9" y="65.45" font-size="6.1" text-anchor="middle" font-weight="normal" font-style="normal" fill="#2a2a2a" stroke="#2a2a2a" stroke-width="0.12">p.S231G</text>
<text x="449.0" y="65.45" font-size="6.1" text-anchor="middle" font-weight="normal" font-style="normal" fill="#2a2a2a" stroke="#2a2a2a" stroke-width="0.12">B</text>
<text x="490.2" y="65.45" font-size="6.1" text-anchor="middle" font-weight="normal" font-style="normal" fill="#2a2a2a" stroke="#2a2a2a" stroke-width="0.12">1.27E-23</text>
<text x="180.3" y="72.8" font-size="6.1" text-anchor="middle" font-weight="normal" font-style="normal" fill="#2a2a2a" stroke="#2a2a2a" stroke-width="0.12">12</text>
<text x="214.5" y="72.8" font-size="6.1" text-anchor="middle" font-weight="normal" font-style="normal" fill="#2a2a2a" stroke="#2a2a2a" stroke-width="0.12">8074055</text>
<text x="247.4" y="72.8" font-size="6.1" text-anchor="middle" font-weight="normal" font-style="normal" fill="#2a2a2a" stroke="#2a2a2a" stroke-width="0.12">T</text>
<text x="279.0" y="72.8" font-size="6.1" text-anchor="middle" font-weight="normal" font-style="normal" fill="#2a2a2a" stroke="#2a2a2a" stroke-width="0.12">C</text>
<text x="316.9" y="72.8" font-size="6.1" text-anchor="middle" font-weight="normal" font-style="normal" fill="#2a2a2a" stroke="#2a2a2a" stroke-width="0.12">SLC2A3</text>
<text x="360.6" y="72.8" font-size="6.1" text-anchor="middle" font-weight="normal" font-style="normal" fill="#2a2a2a" stroke="#2a2a2a" stroke-width="0.12">c.1445A&gt;G</text>
<text x="405.9" y="72.8" font-size="6.1" text-anchor="middle" font-weight="normal" font-style="normal" fill="#2a2a2a" stroke="#2a2a2a" stroke-width="0.12">p.E482G</text>
<text x="449.0" y="72.8" font-size="6.1" text-anchor="middle" font-weight="normal" font-style="normal" fill="#2a2a2a" stroke="#2a2a2a" stroke-width="0.12">B</text>
<text x="490.2" y="72.8" font-size="6.1" text-anchor="middle" font-weight="normal" font-style="normal" fill="#2a2a2a" stroke="#2a2a2a" stroke-width="0.12">9.32E-23</text>
<text x="180.3" y="80.15" font-size="6.1" text-anchor="middle" font-weight="normal" font-style="normal" fill="#2a2a2a" stroke="#2a2a2a" stroke-width="0.12">1</text>
<text x="214.5" y="80.15" font-size="6.1" text-anchor="middle" font-weight="normal" font-style="normal" fill="#2a2a2a" stroke="#2a2a2a" stroke-width="0.12">159043196</text>
<text x="247.4" y="80.15" font-size="6.1" text-anchor="middle" font-weight="normal" font-style="normal" fill="#2a2a2a" stroke="#2a2a2a" stroke-width="0.12">C</text>
<text x="279.0" y="80.15" font-size="6.1" text-anchor="middle" font-weight="normal" font-style="normal" fill="#2a2a2a" stroke="#2a2a2a" stroke-width="0.12">T</text>
<text x="316.9" y="80.15" font-size="6.1" text-anchor="middle" font-weight="normal" font-style="normal" fill="#2a2a2a" stroke="#2a2a2a" stroke-width="0.12">AIM2</text>
<text x="360.6" y="80.15" font-size="6.1" text-anchor="middle" font-weight="normal" font-style="normal" fill="#2a2a2a" stroke="#2a2a2a" stroke-width="0.12">c.94G&gt;A</text>
<text x="405.9" y="80.15" font-size="6.1" text-anchor="middle" font-weight="normal" font-style="normal" fill="#2a2a2a" stroke="#2a2a2a" stroke-width="0.12">p.E32K</text>
<text x="449.0" y="80.15" font-size="6.1" text-anchor="middle" font-weight="normal" font-style="normal" fill="#2a2a2a" stroke="#2a2a2a" stroke-width="0.12">B</text>
<text x="490.2" y="80.15" font-size="6.1" text-anchor="middle" font-weight="normal" font-style="normal" fill="#2a2a2a" stroke="#2a2a2a" stroke-width="0.12">1.65E-16</text>
<text x="180.3" y="87.5" font-size="6.1" text-anchor="middle" font-weight="normal" font-style="normal" fill="#2a2a2a" stroke="#2a2a2a" stroke-width="0.12">20</text>
<text x="214.5" y="87.5" font-size="6.1" text-anchor="middle" font-weight="normal" font-style="normal" fill="#2a2a2a" stroke="#2a2a2a" stroke-width="0.12">57599303</text>
<text x="247.4" y="87.5" font-size="6.1" text-anchor="middle" font-weight="normal" font-style="normal" fill="#2a2a2a" stroke="#2a2a2a" stroke-width="0.12">C</text>
<text x="279.0" y="87.5" font-size="6.1" text-anchor="middle" font-weight="normal" font-style="normal" fill="#2a2a2a" stroke="#2a2a2a" stroke-width="0.12">T</text>
<text x="316.9" y="87.5" font-size="6.1" text-anchor="middle" font-weight="normal" font-style="normal" fill="#2a2a2a" stroke="#2a2a2a" stroke-width="0.12">TUBB1</text>
<text x="360.6" y="87.5" font-size="6.1" text-anchor="middle" font-weight="normal" font-style="normal" fill="#2a2a2a" stroke="#2a2a2a" stroke-width="0.12">c.821C&gt;T</text>
<text x="405.9" y="87.5" font-size="6.1" text-anchor="middle" font-weight="normal" font-style="normal" fill="#2a2a2a" stroke="#2a2a2a" stroke-width="0.12">p.T274M</text>
<text x="449.0" y="87.5" font-size="6.1" text-anchor="middle" font-weight="normal" font-style="normal" fill="#2a2a2a" stroke="#2a2a2a" stroke-width="0.12">D</text>
<text x="490.2" y="87.5" font-size="6.1" text-anchor="middle" font-weight="normal" font-style="normal" fill="#2a2a2a" stroke="#2a2a2a" stroke-width="0.12">8.34E-07</text>
<text x="180.3" y="94.85" font-size="6.1" text-anchor="middle" font-weight="normal" font-style="normal" fill="#2a2a2a" stroke="#2a2a2a" stroke-width="0.12">6</text>
<text x="214.5" y="94.85" font-size="6.1" text-anchor="middle" font-weight="normal" font-style="normal" fill="#2a2a2a" stroke="#2a2a2a" stroke-width="0.12">139495603</text>
<text x="247.4" y="94.85" font-size="6.1" text-anchor="middle" font-weight="normal" font-style="normal" fill="#2a2a2a" stroke="#2a2a2a" stroke-width="0.12">G</text>
<text x="279.0" y="94.85" font-size="6.1" text-anchor="middle" font-weight="normal" font-style="normal" fill="#2a2a2a" stroke="#2a2a2a" stroke-width="0.12">A</text>
<text x="316.9" y="94.85" font-size="6.1" text-anchor="middle" font-weight="normal" font-style="normal" fill="#2a2a2a" stroke="#2a2a2a" stroke-width="0.12">HECA</text>
<text x="360.6" y="94.85" font-size="6.1" text-anchor="middle" font-weight="normal" font-style="normal" fill="#2a2a2a" stroke="#2a2a2a" stroke-width="0.12">c.1394G&gt;A</text>
<text x="405.9" y="94.85" font-size="6.1" text-anchor="middle" font-weight="normal" font-style="normal" fill="#2a2a2a" stroke="#2a2a2a" stroke-width="0.12">p.R465Q</text>
<text x="449.0" y="94.85" font-size="6.1" text-anchor="middle" font-weight="normal" font-style="normal" fill="#2a2a2a" stroke="#2a2a2a" stroke-width="0.12">P</text>
<text x="490.2" y="94.85" font-size="6.1" text-anchor="middle" font-weight="normal" font-style="normal" fill="#2a2a2a" stroke="#2a2a2a" stroke-width="0.12">1.98E-06</text>
<text x="180.3" y="102.2" font-size="6.1" text-anchor="middle" font-weight="normal" font-style="normal" fill="#2a2a2a" stroke="#2a2a2a" stroke-width="0.12">15</text>
<text x="214.5" y="102.2" font-size="6.1" text-anchor="middle" font-weight="normal" font-style="normal" fill="#2a2a2a" stroke="#2a2a2a" stroke-width="0.12">86122875</text>
<text x="247.4" y="102.2" font-size="6.1" text-anchor="middle" font-weight="normal" font-style="normal" fill="#2a2a2a" stroke="#2a2a2a" stroke-width="0.12">A</text>
<text x="279.0" y="102.2" font-size="6.1" text-anchor="middle" font-weight="normal" font-style="normal" fill="#2a2a2a" stroke="#2a2a2a" stroke-width="0.12">C</text>
<text x="316.9" y="102.2" font-size="6.1" text-anchor="middle" font-weight="normal" font-style="normal" fill="#2a2a2a" stroke="#2a2a2a" stroke-width="0.12">AKAP13</text>
<text x="360.6" y="102.2" font-size="6.1" text-anchor="middle" font-weight="normal" font-style="normal" fill="#2a2a2a" stroke="#2a2a2a" stroke-width="0.12">c.1576A&gt;C</text>
<text x="405.9" y="102.2" font-size="6.1" text-anchor="middle" font-weight="normal" font-style="normal" fill="#2a2a2a" stroke="#2a2a2a" stroke-width="0.12">p.K526Q</text>
<text x="449.0" y="102.2" font-size="6.1" text-anchor="middle" font-weight="normal" font-style="normal" fill="#2a2a2a" stroke="#2a2a2a" stroke-width="0.12">B</text>
<text x="490.2" y="102.2" font-size="6.1" text-anchor="middle" font-weight="normal" font-style="normal" fill="#2a2a2a" stroke="#2a2a2a" stroke-width="0.12">2.74E-06</text>
<text x="180.3" y="109.55" font-size="6.1" text-anchor="middle" font-weight="normal" font-style="normal" fill="#2a2a2a" stroke="#2a2a2a" stroke-width="0.12">19</text>
<text x="214.5" y="109.55" font-size="6.1" text-anchor="middle" font-weight="normal" font-style="normal" fill="#2a2a2a" stroke="#2a2a2a" stroke-width="0.12">42091810</text>
<text x="247.4" y="109.55" font-size="6.1" text-anchor="middle" font-weight="normal" font-style="normal" fill="#2a2a2a" stroke="#2a2a2a" stroke-width="0.12">G</text>
<text x="279.0" y="109.55" font-size="6.1" text-anchor="middle" font-weight="normal" font-style="normal" fill="#2a2a2a" stroke="#2a2a2a" stroke-width="0.12">A</text>
<text x="316.9" y="109.55" font-size="6.1" text-anchor="middle" font-weight="normal" font-style="normal" fill="#2a2a2a" stroke="#2a2a2a" stroke-width="0.12">CEACAM21</text>
<text x="360.6" y="109.55" font-size="6.1" text-anchor="middle" font-weight="normal" font-style="normal" fill="#2a2a2a" stroke="#2a2a2a" stroke-width="0.12">c.428G&gt;A</text>
<text x="405.9" y="109.55" font-size="6.1" text-anchor="middle" font-weight="normal" font-style="normal" fill="#2a2a2a" stroke="#2a2a2a" stroke-width="0.12">p.S143N</text>
<text x="449.0" y="109.55" font-size="6.1" text-anchor="middle" font-weight="normal" font-style="normal" fill="#2a2a2a" stroke="#2a2a2a" stroke-width="0.12">B</text>
<text x="490.2" y="109.55" font-size="6.1" text-anchor="middle" font-weight="normal" font-style="normal" fill="#2a2a2a" stroke="#2a2a2a" stroke-width="0.12">3.66E-06</text>
<text x="180.3" y="116.9" font-size="6.1" text-anchor="middle" font-weight="normal" font-style="normal" fill="#2a2a2a" stroke="#2a2a2a" stroke-width="0.12">16</text>
<text x="214.5" y="116.9" font-size="6.1" text-anchor="middle" font-weight="normal" font-style="normal" fill="#2a2a2a" stroke="#2a2a2a" stroke-width="0.12">56693058</text>
<text x="247.4" y="116.9" font-size="6.1" text-anchor="middle" font-weight="normal" font-style="normal" fill="#2a2a2a" stroke="#2a2a2a" stroke-width="0.12">G</text>
<text x="279.0" y="116.9" font-size="6.1" text-anchor="middle" font-weight="normal" font-style="normal" fill="#2a2a2a" stroke="#2a2a2a" stroke-width="0.12">C</text>
<text x="316.9" y="116.9" font-size="6.1" text-anchor="middle" font-weight="normal" font-style="normal" fill="#2a2a2a" stroke="#2a2a2a" stroke-width="0.12">MT1F</text>
<text x="360.6" y="116.9" font-size="6.1" text-anchor="middle" font-weight="normal" font-style="normal" fill="#2a2a2a" stroke="#2a2a2a" stroke-width="0.12">c.168G&gt;C</text>
<text x="405.9" y="116.9" font-size="6.1" text-anchor="middle" font-weight="normal" font-style="normal" fill="#2a2a2a" stroke="#2a2a2a" stroke-width="0.12">p.K56N</text>
<text x="449.0" y="116.9" font-size="6.1" text-anchor="middle" font-weight="normal" font-style="normal" fill="#2a2a2a" stroke="#2a2a2a" stroke-width="0.12">B</text>
<text x="490.2" y="116.9" font-size="6.1" text-anchor="middle" font-weight="normal" font-style="normal" fill="#2a2a2a" stroke="#2a2a2a" stroke-width="0.12">6.42E-05</text>
<text x="180.3" y="124.25" font-size="6.1" text-anchor="middle" font-weight="normal" font-style="normal" fill="#2a2a2a" stroke="#2a2a2a" stroke-width="0.12">19</text>
<text x="214.5" y="124.25" font-size="6.1" text-anchor="middle" font-weight="normal" font-style="normal" fill="#2a2a2a" stroke="#2a2a2a" stroke-width="0.12">15569378</text>
<text x="247.4" y="124.25" font-size="6.1" text-anchor="middle" font-weight="normal" font-style="normal" fill="#2a2a2a" stroke="#2a2a2a" stroke-width="0.12">G</text>
<text x="279.0" y="124.25" font-size="6.1" text-anchor="middle" font-weight="normal" font-style="normal" fill="#2a2a2a" stroke="#2a2a2a" stroke-width="0.12">C</text>
<text x="316.9" y="124.25" font-size="6.1" text-anchor="middle" font-weight="normal" font-style="normal" fill="#2a2a2a" stroke="#2a2a2a" stroke-width="0.12">RASAL3</text>
<text x="360.6" y="124.25" font-size="6.1" text-anchor="middle" font-weight="normal" font-style="normal" fill="#2a2a2a" stroke="#2a2a2a" stroke-width="0.12">c.751C&gt;G</text>
<text x="405.9" y="124.25" font-size="6.1" text-anchor="middle" font-weight="normal" font-style="normal" fill="#2a2a2a" stroke="#2a2a2a" stroke-width="0.12">p.L251V</text>
<text x="449.0" y="124.25" font-size="6.1" text-anchor="middle" font-weight="normal" font-style="normal" fill="#2a2a2a" stroke="#2a2a2a" stroke-width="0.12">B</text>
<text x="490.2" y="124.25" font-size="6.1" text-anchor="middle" font-weight="normal" font-style="normal" fill="#2a2a2a" stroke="#2a2a2a" stroke-width="0.12">1.29E-04</text>
<text x="180.3" y="131.6" font-size="6.1" text-anchor="middle" font-weight="normal" font-style="normal" fill="#2a2a2a" stroke="#2a2a2a" stroke-width="0.12">22</text>
<text x="214.5" y="131.6" font-size="6.1" text-anchor="middle" font-weight="normal" font-style="normal" fill="#2a2a2a" stroke="#2a2a2a" stroke-width="0.12">47095235</text>
<text x="247.4" y="131.6" font-size="6.1" text-anchor="middle" font-weight="normal" font-style="normal" fill="#2a2a2a" stroke="#2a2a2a" stroke-width="0.12">C</text>
<text x="279.0" y="131.6" font-size="6.1" text-anchor="middle" font-weight="normal" font-style="normal" fill="#2a2a2a" stroke="#2a2a2a" stroke-width="0.12">A</text>
<text x="316.9" y="131.6" font-size="6.1" text-anchor="middle" font-weight="normal" font-style="normal" fill="#2a2a2a" stroke="#2a2a2a" stroke-width="0.12">CERK</text>
<text x="360.6" y="131.6" font-size="6.1" text-anchor="middle" font-weight="normal" font-style="normal" fill="#2a2a2a" stroke="#2a2a2a" stroke-width="0.12">c.918G&gt;T</text>
<text x="405.9" y="131.6" font-size="6.1" text-anchor="middle" font-weight="normal" font-style="normal" fill="#2a2a2a" stroke="#2a2a2a" stroke-width="0.12">p.L306F</text>
<text x="449.0" y="131.6" font-size="6.1" text-anchor="middle" font-weight="normal" font-style="normal" fill="#2a2a2a" stroke="#2a2a2a" stroke-width="0.12">B</text>
<text x="490.2" y="131.6" font-size="6.1" text-anchor="middle" font-weight="normal" font-style="normal" fill="#2a2a2a" stroke="#2a2a2a" stroke-width="0.12">1.06E-02</text>
<circle cx="62.9" cy="216.3" r="6.60" fill="#e59a92" fill-opacity="0.68" stroke="#c98a84" stroke-opacity="0.85" stroke-width="0.9"/>
<circle cx="68.2" cy="228.3" r="6.50" fill="#e59a92" fill-opacity="0.68" stroke="#c98a84" stroke-opacity="0.85" stroke-width="0.9"/>
<circle cx="65.1" cy="231.4" r="6.50" fill="#e59a92" fill-opacity="0.68" stroke="#c98a84" stroke-opacity="0.85" stroke-width="0.9"/>
<circle cx="90.3" cy="256.2" r="5.70" fill="#e59a92" fill-opacity="0.68" stroke="#c98a84" stroke-opacity="0.85" stroke-width="0.9"/>
<circle cx="124.8" cy="186.3" r="6.50" fill="#3f9c64" fill-opacity="0.92" stroke="#2f7a4c" stroke-width="0.7"/>
<circle cx="136.5" cy="201.7" r="6.60" fill="#3f9c64" fill-opacity="0.92" stroke="#2f7a4c" stroke-width="0.7"/>
<circle cx="47.0" cy="292.7" r="3.20" fill="#3f9c64" fill-opacity="0.92" stroke="#2f7a4c" stroke-width="0.7"/>
<circle cx="81.3" cy="295.2" r="3.90" fill="#8dbde3" fill-opacity="0.85" stroke="#7aaed6" stroke-width="0.6"/>
<circle cx="46.3" cy="296.2" r="3.50" fill="#e59a92" fill-opacity="0.68" stroke="#c98a84" stroke-opacity="0.85" stroke-width="0.9"/>
<circle cx="46.7" cy="301.9" r="3.20" fill="#e59a92" fill-opacity="0.68" stroke="#c98a84" stroke-opacity="0.85" stroke-width="0.9"/>
<circle cx="56.8" cy="301.1" r="3.50" fill="#e59a92" fill-opacity="0.68" stroke="#c98a84" stroke-opacity="0.85" stroke-width="0.9"/>
<circle cx="72.0" cy="295.6" r="3.90" fill="#e59a92" fill-opacity="0.68" stroke="#c98a84" stroke-opacity="0.85" stroke-width="0.9"/>
<circle cx="48.6" cy="312.3" r="1.80" fill="#e59a92" fill-opacity="0.68" stroke="#c98a84" stroke-opacity="0.85" stroke-width="0.9"/>
<circle cx="66.6" cy="315.0" r="1.40" fill="#e59a92" fill-opacity="0.68" stroke="#c98a84" stroke-opacity="0.85" stroke-width="0.9"/>
<circle cx="68.2" cy="314.2" r="1.40" fill="#e59a92" fill-opacity="0.68" stroke="#c98a84" stroke-opacity="0.85" stroke-width="0.9"/>
<circle cx="75.2" cy="314.4" r="1.30" fill="#e59a92" fill-opacity="0.68" stroke="#c98a84" stroke-opacity="0.85" stroke-width="0.9"/>
<circle cx="83.9" cy="309.8" r="2.00" fill="#e59a92" fill-opacity="0.68" stroke="#c98a84" stroke-opacity="0.85" stroke-width="0.9"/>
<rect x="42.7" y="179.3" width="101.7" height="144.7" fill="none" stroke="#1e1e1e" stroke-width="1.25"/>
<line x1="39.3" y1="317.2" x2="42.7" y2="317.2" stroke="#333" stroke-width="1"/>
<text x="36.8" y="320.2" font-size="8.96" text-anchor="end" font-weight="normal" font-style="normal" fill="#333" textLength="4.45" lengthAdjust="spacingAndGlyphs" stroke="#333" stroke-width="0.18">0</text>
<line x1="39.3" y1="278.65" x2="42.7" y2="278.65" stroke="#333" stroke-width="1"/>
<text x="36.8" y="281.65" font-size="8.96" text-anchor="end" font-weight="normal" font-style="normal" fill="#333" textLength="8.9" lengthAdjust="spacingAndGlyphs" stroke="#333" stroke-width="0.18">10</text>
<line x1="39.3" y1="240.1" x2="42.7" y2="240.1" stroke="#333" stroke-width="1"/>
<text x="36.8" y="243.1" font-size="8.96" text-anchor="end" font-weight="normal" font-style="normal" fill="#333" textLength="8.9" lengthAdjust="spacingAndGlyphs" stroke="#333" stroke-width="0.18">20</text>
<line x1="39.3" y1="201.54999999999998" x2="42.7" y2="201.54999999999998" stroke="#333" stroke-width="1"/>
<text x="36.8" y="204.54999999999998" font-size="8.96" text-anchor="end" font-weight="normal" font-style="normal" fill="#333" textLength="8.9" lengthAdjust="spacingAndGlyphs" stroke="#333" stroke-width="0.18">30</text>
<line x1="68.4" y1="324.0" x2="68.4" y2="326.6" stroke="#333" stroke-width="1"/>
<text x="68.4" y="336.9" font-size="8.96" text-anchor="middle" font-weight="normal" font-style="normal" fill="#333" textLength="4.45" lengthAdjust="spacingAndGlyphs" stroke="#333" stroke-width="0.18">0</text>
<line x1="96.76" y1="324.0" x2="96.76" y2="326.6" stroke="#333" stroke-width="1"/>
<text x="96.76" y="336.9" font-size="8.96" text-anchor="middle" font-weight="normal" font-style="normal" fill="#333" textLength="13.35" lengthAdjust="spacingAndGlyphs" stroke="#333" stroke-width="0.18">200</text>
<line x1="125.12" y1="324.0" x2="125.12" y2="326.6" stroke="#333" stroke-width="1"/>
<text x="125.12" y="336.9" font-size="8.96" text-anchor="middle" font-weight="normal" font-style="normal" fill="#333" textLength="13.35" lengthAdjust="spacingAndGlyphs" stroke="#333" stroke-width="0.18">400</text>
<text x="93.6" y="349.8" font-size="10.26" text-anchor="middle" font-weight="normal" font-style="normal" fill="#222" textLength="123.0" lengthAdjust="spacingAndGlyphs" stroke="#222" stroke-width="0.18">Expression specificity in B cells</text>
<text transform="translate(21.9,254.8) rotate(-90)" font-size="9.8" text-anchor="middle" fill="#222" stroke="#222" stroke-width="0.1" textLength="98" lengthAdjust="spacingAndGlyphs">–log10 adjusted <tspan font-style="italic">P</tspan>–value</text>
<text x="98.0" y="189.0" font-size="8.6" text-anchor="end" font-weight="normal" font-style="italic" fill="#1a1a1a" textLength="29.3" lengthAdjust="spacingAndGlyphs" stroke="#1a1a1a" stroke-width="0.25">LAPTM5</text>
<text x="111.5" y="205.2" font-size="8.6" text-anchor="end" font-weight="normal" font-style="italic" fill="#1a1a1a" textLength="24.5" lengthAdjust="spacingAndGlyphs" stroke="#1a1a1a" stroke-width="0.25">HCLS1</text>
<line x1="101.3" y1="186.2" x2="110.1" y2="186.2" stroke="#111" stroke-width="1.1"/>
<polygon points="112.6,186.2 109.0,184.1 109.0,188.29999999999998" fill="#111"/>
<line x1="115.2" y1="202.4" x2="123.2" y2="202.4" stroke="#111" stroke-width="1.1"/>
<polygon points="125.7,202.4 122.10000000000001,200.3 122.10000000000001,204.5" fill="#111"/>
<text x="157.8" y="246.0" font-size="7.8" text-anchor="start" font-weight="bold" font-style="normal" fill="#222" textLength="39.0" lengthAdjust="spacingAndGlyphs">Polyphen2</text>
<circle cx="159.1" cy="252.6" r="1.90" fill="#e8b0aa"/>
<text x="165.8" y="255.2" font-size="7.3" text-anchor="start" font-weight="normal" font-style="normal" fill="#333" stroke="#333" stroke-width="0.18">B</text>
<circle cx="159.1" cy="264.0" r="1.90" fill="#4f9a6c"/>
<text x="165.8" y="266.6" font-size="7.3" text-anchor="start" font-weight="normal" font-style="normal" fill="#333" stroke="#333" stroke-width="0.18">D</text>
<circle cx="159.1" cy="275.5" r="1.90" fill="#a7c8e6"/>
<text x="165.8" y="278.1" font-size="7.3" text-anchor="start" font-weight="normal" font-style="normal" fill="#333" stroke="#333" stroke-width="0.18">P</text>
<line x1="186.0" y1="179.4" x2="426.8" y2="179.4" stroke="#222" stroke-width="1.1"/>
<line x1="186.0" y1="199.6" x2="426.8" y2="199.6" stroke="#222" stroke-width="1.1"/>
<text x="204.0" y="192.3" font-size="8.75" text-anchor="middle" font-weight="normal" font-style="normal" fill="#222" textLength="27.5" lengthAdjust="spacingAndGlyphs" stroke="#222" stroke-width="0.15">Symbol</text>
<text x="225.4" y="192.3" font-size="8.75" fill="#222" stroke="#222" stroke-width="0.15" textLength="64.5" lengthAdjust="spacingAndGlyphs">adjusted <tspan font-style="italic" font-size="10.2">P</tspan>–value</text>
<text x="325.0" y="192.3" font-size="8.75" text-anchor="middle" font-weight="normal" font-style="normal" fill="#222" textLength="38.2" lengthAdjust="spacingAndGlyphs" stroke="#222" stroke-width="0.15">Polyphen2</text>
<text x="388.7" y="192.3" font-size="8.75" text-anchor="middle" font-weight="normal" font-style="normal" fill="#222" textLength="57.8" lengthAdjust="spacingAndGlyphs" stroke="#222" stroke-width="0.15">B cell specificity</text>
<text x="204.0" y="212.9" font-size="8.75" text-anchor="middle" font-weight="normal" font-style="italic" fill="#222" textLength="32.4" lengthAdjust="spacingAndGlyphs" stroke="#222" stroke-width="0.15">LAPTM5</text>
<text x="204.1" y="227.2" font-size="8.75" text-anchor="middle" font-weight="normal" font-style="italic" fill="#222" textLength="26.2" lengthAdjust="spacingAndGlyphs" stroke="#222" stroke-width="0.15">HCLS1</text>
<text x="257.5" y="213.0" font-size="8.75" text-anchor="middle" font-weight="normal" font-style="normal" fill="#222" textLength="33.4" lengthAdjust="spacingAndGlyphs" stroke="#222" stroke-width="0.15">7.35E-35</text>
<text x="257.5" y="227.0" font-size="8.75" text-anchor="middle" font-weight="normal" font-style="normal" fill="#222" textLength="33.4" lengthAdjust="spacingAndGlyphs" stroke="#222" stroke-width="0.15">9.86E-31</text>
<text x="325.5" y="213.0" font-size="8.75" text-anchor="middle" font-weight="normal" font-style="normal" fill="#222" textLength="5.85" lengthAdjust="spacingAndGlyphs" stroke="#222" stroke-width="0.15">D</text>
<text x="325.5" y="227.0" font-size="8.75" text-anchor="middle" font-weight="normal" font-style="normal" fill="#222" textLength="5.85" lengthAdjust="spacingAndGlyphs" stroke="#222" stroke-width="0.15">D</text>
<text x="385.6" y="213.0" font-size="8.75" text-anchor="middle" font-weight="normal" font-style="normal" fill="#222" textLength="26.2" lengthAdjust="spacingAndGlyphs" stroke="#222" stroke-width="0.15">395.88</text>
<text x="385.6" y="227.0" font-size="8.75" text-anchor="middle" font-weight="normal" font-style="normal" fill="#222" textLength="26.2" lengthAdjust="spacingAndGlyphs" stroke="#222" stroke-width="0.15">478.67</text>
<text x="213.6" y="387.3" font-size="8.3" text-anchor="end" font-weight="normal" font-style="normal" fill="#222" textLength="145.0" lengthAdjust="spacingAndGlyphs" stroke="#222" stroke-width="0.18">Uterine corpus endometrioid carcinoma</text>
<text x="213.6" y="397.3" font-size="8.3" text-anchor="end" font-weight="normal" font-style="normal" fill="#222" textLength="68.3" lengthAdjust="spacingAndGlyphs" stroke="#222" stroke-width="0.18">Thyroid carcinoma</text>
<text x="213.6" y="406.3" font-size="8.3" text-anchor="end" font-weight="normal" font-style="normal" fill="#222" textLength="96.5" lengthAdjust="spacingAndGlyphs" stroke="#222" stroke-width="0.18">Stomach adenocarcinoma</text>
<text x="213.6" y="415.3" font-size="8.3" text-anchor="end" font-weight="normal" font-style="normal" fill="#222" textLength="97.9" lengthAdjust="spacingAndGlyphs" stroke="#222" stroke-width="0.18">Skin cutaneous melanoma</text>
<text x="213.6" y="425.3" font-size="8.3" text-anchor="end" font-weight="normal" font-style="normal" fill="#222" textLength="94.7" lengthAdjust="spacingAndGlyphs" stroke="#222" stroke-width="0.18">Prostate adenocarcinoma</text>
<text x="213.6" y="434.3" font-size="8.3" text-anchor="end" font-weight="normal" font-style="normal" fill="#222" textLength="82.2" lengthAdjust="spacingAndGlyphs" stroke="#222" stroke-width="0.18">Lung adenocarcinoma</text>
<text x="213.6" y="444.3" font-size="8.3" text-anchor="end" font-weight="normal" font-style="normal" fill="#222" textLength="121.9" lengthAdjust="spacingAndGlyphs" stroke="#222" stroke-width="0.18">Kidney renal clear cell carcinoma</text>
<text x="213.6" y="453.3" font-size="8.3" text-anchor="end" font-weight="normal" font-style="normal" fill="#222" textLength="152.0" lengthAdjust="spacingAndGlyphs" stroke="#222" stroke-width="0.18">Head and neck squamous cell carcinoma</text>
<text x="213.6" y="463.3" font-size="8.3" text-anchor="end" font-weight="normal" font-style="normal" fill="#222" textLength="48.5" lengthAdjust="spacingAndGlyphs" stroke="#222" stroke-width="0.18">Glioblastoma</text>
<text x="213.6" y="472.3" font-size="8.3" text-anchor="end" font-weight="normal" font-style="normal" fill="#222" textLength="101.2" lengthAdjust="spacingAndGlyphs" stroke="#222" stroke-width="0.18">Colorectal adenocarcinoma</text>
<text x="213.6" y="482.3" font-size="8.3" text-anchor="end" font-weight="normal" font-style="normal" fill="#222" textLength="97.0" lengthAdjust="spacingAndGlyphs" stroke="#222" stroke-width="0.18">Breast invasive carcinoma</text>
<text x="213.6" y="491.3" font-size="8.3" text-anchor="end" font-weight="normal" font-style="normal" fill="#222" textLength="91.9" lengthAdjust="spacingAndGlyphs" stroke="#222" stroke-width="0.18">Brain lower grade glioma</text>
<text x="213.6" y="501.3" font-size="8.3" text-anchor="end" font-weight="normal" font-style="normal" fill="#222" textLength="55.9" lengthAdjust="spacingAndGlyphs" stroke="#222" stroke-width="0.18">Bladder cancer</text>
<text x="213.6" y="510.3" font-size="8.3" text-anchor="end" font-weight="normal" font-style="normal" fill="#222" textLength="187.1" lengthAdjust="spacingAndGlyphs" stroke="#222" stroke-width="0.18">Lymphoid neoplasm diffuse large B–cell lymphoma</text>
<text x="213.6" y="519.3" font-size="8.3" text-anchor="end" font-weight="normal" font-style="normal" fill="#222" textLength="87.8" lengthAdjust="spacingAndGlyphs" stroke="#222" stroke-width="0.18">Acute myeloid leukemia</text>
<text transform="translate(14.3,450.8) rotate(-90)" font-size="9.2" text-anchor="middle" fill="#222" stroke="#222" stroke-width="0.22" textLength="54.7" lengthAdjust="spacingAndGlyphs">TCGA cancers</text>
<line x1="253.4" y1="384.5" x2="266.8" y2="384.5" stroke="#2a2a2a" stroke-width="1.05"/>
<line x1="277.8" y1="384.5" x2="289.6" y2="384.5" stroke="#2a2a2a" stroke-width="1.05"/>
<circle cx="294.6" cy="384.5" r="1.40" fill="#111"/>
<rect x="266.8" y="380.95" width="11.0" height="7.1" fill="#dc7c96" stroke="#3a0a18" stroke-width="1.0"/>
<line x1="272.6" y1="380.95" x2="272.6" y2="388.05" stroke="#3a0a18" stroke-width="1.2"/>
<line x1="234.6" y1="394.5" x2="247.3" y2="394.5" stroke="#2a2a2a" stroke-width="1.05"/>
<line x1="256.9" y1="394.5" x2="258.3" y2="394.5" stroke="#2a2a2a" stroke-width="1.05"/>
<line x1="225.4" y1="394.5" x2="234.6" y2="394.5" stroke="#111" stroke-width="2.8" stroke-linecap="round"/>
<rect x="247.3" y="390.95" width="9.599999999999966" height="7.1" fill="#dc7c96" stroke="#3a0a18" stroke-width="1.0"/>
<line x1="252.2" y1="390.95" x2="252.2" y2="398.05" stroke="#3a0a18" stroke-width="1.2"/>
<line x1="249.4" y1="412.5" x2="267.5" y2="412.5" stroke="#2a2a2a" stroke-width="1.05"/>
<line x1="281.3" y1="412.5" x2="297.7" y2="412.5" stroke="#2a2a2a" stroke-width="1.05"/>
<circle cx="238.3" cy="412.5" r="1.40" fill="#111"/>
<circle cx="245.7" cy="412.5" r="1.40" fill="#111"/>
<rect x="267.5" y="408.95" width="13.800000000000011" height="7.1" fill="#c49ad3" stroke="#24102e" stroke-width="1.0"/>
<line x1="274.5" y1="408.95" x2="274.5" y2="416.05" stroke="#24102e" stroke-width="1.2"/>
<line x1="254.4" y1="422.5" x2="263.0" y2="422.5" stroke="#2a2a2a" stroke-width="1.05"/>
<line x1="270.1" y1="422.5" x2="277.4" y2="422.5" stroke="#2a2a2a" stroke-width="1.05"/>
<circle cx="282.6" cy="422.5" r="1.40" fill="#111"/>
<circle cx="285.0" cy="422.5" r="1.40" fill="#111"/>
<rect x="263.0" y="418.95" width="7.100000000000023" height="7.1" fill="#7aa3d0" stroke="#0c1a30" stroke-width="1.0"/>
<line x1="266.6" y1="418.95" x2="266.6" y2="426.05" stroke="#0c1a30" stroke-width="1.2"/>
<line x1="264.7" y1="431.5" x2="276.2" y2="431.5" stroke="#2a2a2a" stroke-width="1.05"/>
<line x1="284.1" y1="431.5" x2="293.3" y2="431.5" stroke="#2a2a2a" stroke-width="1.05"/>
<circle cx="255.8" cy="431.5" r="1.40" fill="#111"/>
<circle cx="260.1" cy="431.5" r="1.40" fill="#111"/>
<circle cx="264.0" cy="431.5" r="1.40" fill="#111"/>
<rect x="276.2" y="427.95" width="7.900000000000034" height="7.1" fill="#3c9bcc" stroke="#08202e" stroke-width="1.0"/>
<line x1="280.2" y1="427.95" x2="280.2" y2="435.05" stroke="#08202e" stroke-width="1.2"/>
<line x1="266.9" y1="441.5" x2="277.4" y2="441.5" stroke="#2a2a2a" stroke-width="1.05"/>
<line x1="284.5" y1="441.5" x2="295.5" y2="441.5" stroke="#2a2a2a" stroke-width="1.05"/>
<line x1="261.8" y1="441.5" x2="266.5" y2="441.5" stroke="#111" stroke-width="2.8" stroke-linecap="round"/>
<circle cx="254.6" cy="441.5" r="1.40" fill="#111"/>
<circle cx="258.6" cy="441.5" r="1.40" fill="#111"/>
<circle cx="296.5" cy="441.5" r="1.40" fill="#111"/>
<rect x="277.4" y="437.95" width="7.100000000000023" height="7.1" fill="#30a0c4" stroke="#08222e" stroke-width="1.0"/>
<line x1="281.0" y1="437.95" x2="281.0" y2="445.05" stroke="#08222e" stroke-width="1.2"/>
<line x1="251.5" y1="450.5" x2="267.8" y2="450.5" stroke="#2a2a2a" stroke-width="1.05"/>
<line x1="278.9" y1="450.5" x2="291.5" y2="450.5" stroke="#2a2a2a" stroke-width="1.05"/>
<circle cx="250.0" cy="450.5" r="1.40" fill="#111"/>
<rect x="267.8" y="446.95" width="11.099999999999966" height="7.1" fill="#20a290" stroke="#06241e" stroke-width="1.0"/>
<line x1="273.3" y1="446.95" x2="273.3" y2="454.05" stroke="#06241e" stroke-width="1.2"/>
<line x1="251.2" y1="469.5" x2="264.2" y2="469.5" stroke="#2a2a2a" stroke-width="1.05"/>
<line x1="275.2" y1="469.5" x2="287.8" y2="469.5" stroke="#2a2a2a" stroke-width="1.05"/>
<circle cx="247.9" cy="469.5" r="1.40" fill="#111"/>
<rect x="264.2" y="465.95" width="11.0" height="7.1" fill="#35a05a" stroke="#08240e" stroke-width="1.0"/>
<line x1="269.7" y1="465.95" x2="269.7" y2="473.05" stroke="#08240e" stroke-width="1.2"/>
<line x1="261.4" y1="479.5" x2="272.5" y2="479.5" stroke="#2a2a2a" stroke-width="1.05"/>
<line x1="280.4" y1="479.5" x2="292.8" y2="479.5" stroke="#2a2a2a" stroke-width="1.05"/>
<circle cx="257.7" cy="479.5" r="1.40" fill="#111"/>
<circle cx="259.6" cy="479.5" r="1.40" fill="#111"/>
<circle cx="293.5" cy="479.5" r="1.40" fill="#111"/>
<rect x="272.5" y="475.95" width="7.899999999999977" height="7.1" fill="#5fab4c" stroke="#10240a" stroke-width="1.0"/>
<line x1="276.4" y1="475.95" x2="276.4" y2="483.05" stroke="#10240a" stroke-width="1.2"/>
<line x1="235.0" y1="488.5" x2="247.5" y2="488.5" stroke="#2a2a2a" stroke-width="1.05"/>
<line x1="257.1" y1="488.5" x2="258.0" y2="488.5" stroke="#2a2a2a" stroke-width="1.05"/>
<line x1="225.4" y1="488.5" x2="235.0" y2="488.5" stroke="#111" stroke-width="2.8" stroke-linecap="round"/>
<rect x="247.5" y="484.95" width="9.600000000000023" height="7.1" fill="#c8bf2c" stroke="#2a2800" stroke-width="1.0"/>
<line x1="252.3" y1="484.95" x2="252.3" y2="492.05" stroke="#2a2800" stroke-width="1.2"/>
<line x1="247.5" y1="498.5" x2="264.5" y2="498.5" stroke="#2a2a2a" stroke-width="1.05"/>
<line x1="276.7" y1="498.5" x2="289.6" y2="498.5" stroke="#2a2a2a" stroke-width="1.05"/>
<circle cx="295.5" cy="498.5" r="1.40" fill="#111"/>
<rect x="264.5" y="494.95" width="12.199999999999989" height="7.1" fill="#e6ae30" stroke="#2a1e00" stroke-width="1.0"/>
<line x1="270.6" y1="494.95" x2="270.6" y2="502.05" stroke="#2a1e00" stroke-width="1.2"/>
<line x1="289.0" y1="507.5" x2="293.3" y2="507.5" stroke="#2a2a2a" stroke-width="1.05"/>
<line x1="299.6" y1="507.5" x2="303.8" y2="507.5" stroke="#2a2a2a" stroke-width="1.05"/>
<circle cx="284.1" cy="507.5" r="1.40" fill="#111"/>
<circle cx="307.9" cy="507.5" r="1.40" fill="#111"/>
<rect x="293.3" y="503.95" width="6.300000000000011" height="7.1" fill="#e8a03c" stroke="#2a1a00" stroke-width="1.0"/>
<line x1="296.4" y1="503.95" x2="296.4" y2="511.05" stroke="#2a1a00" stroke-width="1.2"/>
<line x1="279.8" y1="516.5" x2="288.1" y2="516.5" stroke="#2a2a2a" stroke-width="1.05"/>
<line x1="293.7" y1="516.5" x2="300.1" y2="516.5" stroke="#2a2a2a" stroke-width="1.05"/>
<circle cx="272.5" cy="516.5" r="1.40" fill="#111"/>
<circle cx="274.6" cy="516.5" r="1.40" fill="#111"/>
<circle cx="276.7" cy="516.5" r="1.40" fill="#111"/>
<rect x="288.1" y="512.95" width="5.599999999999966" height="7.1" fill="#e8948c" stroke="#3a1010" stroke-width="1.0"/>
<line x1="290.9" y1="512.95" x2="290.9" y2="520.05" stroke="#3a1010" stroke-width="1.2"/>
<line x1="225.3" y1="400.2" x2="225.3" y2="406.8" stroke="#111" stroke-width="1.4"/>
<line x1="225.3" y1="403.5" x2="227.8" y2="403.5" stroke="#111" stroke-width="1.2"/>
<circle cx="228.6" cy="403.5" r="1.35" fill="#111"/>
<circle cx="231.1" cy="403.5" r="1.35" fill="#111"/>
<line x1="225.4" y1="460.5" x2="248.8" y2="460.5" stroke="#111" stroke-width="2.8" stroke-linecap="round"/>
<line x1="249.0" y1="457.4" x2="249.0" y2="463.6" stroke="#111" stroke-width="1.4"/>
<rect x="220.4" y="378.4" width="91.79999999999998" height="144.0" fill="none" stroke="#1e1e1e" stroke-width="1.25"/>
<line x1="217.1" y1="384.5" x2="220.4" y2="384.5" stroke="#333" stroke-width="1"/>
<line x1="217.1" y1="394.5" x2="220.4" y2="394.5" stroke="#333" stroke-width="1"/>
<line x1="217.1" y1="403.5" x2="220.4" y2="403.5" stroke="#333" stroke-width="1"/>
<line x1="217.1" y1="412.5" x2="220.4" y2="412.5" stroke="#333" stroke-width="1"/>
<line x1="217.1" y1="422.5" x2="220.4" y2="422.5" stroke="#333" stroke-width="1"/>
<line x1="217.1" y1="431.5" x2="220.4" y2="431.5" stroke="#333" stroke-width="1"/>
<line x1="217.1" y1="441.5" x2="220.4" y2="441.5" stroke="#333" stroke-width="1"/>
<line x1="217.1" y1="450.5" x2="220.4" y2="450.5" stroke="#333" stroke-width="1"/>
<line x1="217.1" y1="460.5" x2="220.4" y2="460.5" stroke="#333" stroke-width="1"/>
<line x1="217.1" y1="469.5" x2="220.4" y2="469.5" stroke="#333" stroke-width="1"/>
<line x1="217.1" y1="479.5" x2="220.4" y2="479.5" stroke="#333" stroke-width="1"/>
<line x1="217.1" y1="488.5" x2="220.4" y2="488.5" stroke="#333" stroke-width="1"/>
<line x1="217.1" y1="498.5" x2="220.4" y2="498.5" stroke="#333" stroke-width="1"/>
<line x1="217.1" y1="507.5" x2="220.4" y2="507.5" stroke="#333" stroke-width="1"/>
<line x1="217.1" y1="516.5" x2="220.4" y2="516.5" stroke="#333" stroke-width="1"/>
<line x1="235.1" y1="522.4" x2="235.1" y2="525.0" stroke="#333" stroke-width="1"/>
<text x="235.1" y="536.0" font-size="9.07" text-anchor="middle" font-weight="normal" font-style="normal" fill="#333" textLength="4.5" lengthAdjust="spacingAndGlyphs" stroke="#333" stroke-width="0.18">5</text>
<line x1="265.5" y1="522.4" x2="265.5" y2="525.0" stroke="#333" stroke-width="1"/>
<text x="265.5" y="536.0" font-size="9.07" text-anchor="middle" font-weight="normal" font-style="normal" fill="#333" textLength="9.01" lengthAdjust="spacingAndGlyphs" stroke="#333" stroke-width="0.18">10</text>
<line x1="296.2" y1="522.4" x2="296.2" y2="525.0" stroke="#333" stroke-width="1"/>
<text x="296.2" y="536.0" font-size="9.07" text-anchor="middle" font-weight="normal" font-style="normal" fill="#333" textLength="9.01" lengthAdjust="spacingAndGlyphs" stroke="#333" stroke-width="0.18">15</text>
<text x="266.0" y="373.7" font-size="9.65" text-anchor="middle" font-weight="normal" font-style="normal" fill="#222" textLength="38.1" lengthAdjust="spacingAndGlyphs" stroke="#222" stroke-width="0.18">LAPTM5</text>
<text x="266.5" y="548.4" font-size="9.85" text-anchor="middle" font-weight="normal" font-style="normal" fill="#222" textLength="98.0" lengthAdjust="spacingAndGlyphs" stroke="#222" stroke-width="0.18">log2 (normalized counts)</text>
<line x1="352.0" y1="384.5" x2="369.0" y2="384.5" stroke="#2a2a2a" stroke-width="1.05"/>
<line x1="384.5" y1="384.5" x2="400.9" y2="384.5" stroke="#2a2a2a" stroke-width="1.05"/>
<rect x="369.0" y="380.95" width="15.5" height="7.1" fill="#dc7c96" stroke="#3a0a18" stroke-width="1.0"/>
<line x1="376.6" y1="380.95" x2="376.6" y2="388.05" stroke="#3a0a18" stroke-width="1.2"/>
<line x1="357.2" y1="394.5" x2="370.1" y2="394.5" stroke="#2a2a2a" stroke-width="1.05"/>
<line x1="380.6" y1="394.5" x2="393.5" y2="394.5" stroke="#2a2a2a" stroke-width="1.05"/>
<circle cx="395.6" cy="394.5" r="1.40" fill="#111"/>
<circle cx="398.1" cy="394.5" r="1.40" fill="#111"/>
<rect x="370.1" y="390.95" width="10.5" height="7.1" fill="#dc7c96" stroke="#3a0a18" stroke-width="1.0"/>
<line x1="375.5" y1="390.95" x2="375.5" y2="398.05" stroke="#3a0a18" stroke-width="1.2"/>
<line x1="335.8" y1="403.5" x2="339.1" y2="403.5" stroke="#2a2a2a" stroke-width="1.05"/>
<line x1="345.0" y1="403.5" x2="352.0" y2="403.5" stroke="#2a2a2a" stroke-width="1.05"/>
<circle cx="353.5" cy="403.5" r="1.40" fill="#111"/>
<circle cx="354.8" cy="403.5" r="1.40" fill="#111"/>
<circle cx="362.2" cy="403.5" r="1.40" fill="#111"/>
<rect x="339.1" y="399.95" width="5.899999999999977" height="7.1" fill="#cf7aa0" stroke="#3a0a20" stroke-width="1.0"/>
<line x1="342.0" y1="399.95" x2="342.0" y2="407.05" stroke="#3a0a20" stroke-width="1.2"/>
<line x1="351.1" y1="412.5" x2="369.5" y2="412.5" stroke="#2a2a2a" stroke-width="1.05"/>
<line x1="388.0" y1="412.5" x2="407.0" y2="412.5" stroke="#2a2a2a" stroke-width="1.05"/>
<rect x="369.5" y="408.95" width="18.5" height="7.1" fill="#c49ad3" stroke="#24102e" stroke-width="1.0"/>
<line x1="378.8" y1="408.95" x2="378.8" y2="416.05" stroke="#24102e" stroke-width="1.2"/>
<line x1="356.6" y1="422.5" x2="367.4" y2="422.5" stroke="#2a2a2a" stroke-width="1.05"/>
<line x1="375.6" y1="422.5" x2="386.9" y2="422.5" stroke="#2a2a2a" stroke-width="1.05"/>
<circle cx="391.5" cy="422.5" r="1.40" fill="#111"/>
<circle cx="396.7" cy="422.5" r="1.40" fill="#111"/>
<rect x="367.4" y="418.95" width="8.200000000000045" height="7.1" fill="#7aa3d0" stroke="#0c1a30" stroke-width="1.0"/>
<line x1="371.7" y1="418.95" x2="371.7" y2="426.05" stroke="#0c1a30" stroke-width="1.2"/>
<line x1="364.0" y1="431.5" x2="379.3" y2="431.5" stroke="#2a2a2a" stroke-width="1.05"/>
<line x1="388.5" y1="431.5" x2="399.6" y2="431.5" stroke="#2a2a2a" stroke-width="1.05"/>
<circle cx="357.2" cy="431.5" r="1.40" fill="#111"/>
<circle cx="358.6" cy="431.5" r="1.40" fill="#111"/>
<circle cx="360.3" cy="431.5" r="1.40" fill="#111"/>
<circle cx="364.0" cy="431.5" r="1.40" fill="#111"/>
<rect x="379.3" y="427.95" width="9.199999999999989" height="7.1" fill="#3c9bcc" stroke="#08202e" stroke-width="1.0"/>
<line x1="383.8" y1="427.95" x2="383.8" y2="435.05" stroke="#08202e" stroke-width="1.2"/>
<line x1="374.2" y1="441.5" x2="383.9" y2="441.5" stroke="#2a2a2a" stroke-width="1.05"/>
<line x1="391.7" y1="441.5" x2="400.9" y2="441.5" stroke="#2a2a2a" stroke-width="1.05"/>
<circle cx="361.0" cy="441.5" r="1.40" fill="#111"/>
<circle cx="363.2" cy="441.5" r="1.40" fill="#111"/>
<circle cx="366.2" cy="441.5" r="1.40" fill="#111"/>
<circle cx="368.4" cy="441.5" r="1.40" fill="#111"/>
<circle cx="370.6" cy="441.5" r="1.40" fill="#111"/>
<circle cx="372.8" cy="441.5" r="1.40" fill="#111"/>
<rect x="383.9" y="437.95" width="7.800000000000011" height="7.1" fill="#30a0c4" stroke="#08222e" stroke-width="1.0"/>
<line x1="387.8" y1="437.95" x2="387.8" y2="445.05" stroke="#08222e" stroke-width="1.2"/>
<line x1="352.0" y1="450.5" x2="372.3" y2="450.5" stroke="#2a2a2a" stroke-width="1.05"/>
<line x1="384.3" y1="450.5" x2="402.8" y2="450.5" stroke="#2a2a2a" stroke-width="1.05"/>
<circle cx="349.4" cy="450.5" r="1.40" fill="#111"/>
<circle cx="350.8" cy="450.5" r="1.40" fill="#111"/>
<rect x="372.3" y="446.95" width="12.0" height="7.1" fill="#20a290" stroke="#06241e" stroke-width="1.0"/>
<line x1="378.3" y1="446.95" x2="378.3" y2="454.05" stroke="#06241e" stroke-width="1.2"/>
<line x1="371.4" y1="460.5" x2="387.1" y2="460.5" stroke="#2a2a2a" stroke-width="1.05"/>
<line x1="396.7" y1="460.5" x2="409.6" y2="460.5" stroke="#2a2a2a" stroke-width="1.05"/>
<circle cx="359.4" cy="460.5" r="1.40" fill="#111"/>
<circle cx="371.4" cy="460.5" r="1.40" fill="#111"/>
<rect x="387.1" y="456.95" width="9.599999999999966" height="7.1" fill="#27a37a" stroke="#06241c" stroke-width="1.0"/>
<line x1="391.9" y1="456.95" x2="391.9" y2="464.05" stroke="#06241c" stroke-width="1.2"/>
<line x1="349.2" y1="469.5" x2="365.8" y2="469.5" stroke="#2a2a2a" stroke-width="1.05"/>
<line x1="377.8" y1="469.5" x2="394.5" y2="469.5" stroke="#2a2a2a" stroke-width="1.05"/>
<rect x="365.8" y="465.95" width="12.0" height="7.1" fill="#35a05a" stroke="#08240e" stroke-width="1.0"/>
<line x1="372.3" y1="465.95" x2="372.3" y2="473.05" stroke="#08240e" stroke-width="1.2"/>
<line x1="359.4" y1="479.5" x2="372.9" y2="479.5" stroke="#2a2a2a" stroke-width="1.05"/>
<line x1="383.4" y1="479.5" x2="399.1" y2="479.5" stroke="#2a2a2a" stroke-width="1.05"/>
<circle cx="356.1" cy="479.5" r="1.40" fill="#111"/>
<circle cx="399.6" cy="479.5" r="1.40" fill="#111"/>
<circle cx="401.6" cy="479.5" r="1.40" fill="#111"/>
<circle cx="403.7" cy="479.5" r="1.40" fill="#111"/>
<rect x="372.9" y="475.95" width="10.5" height="7.1" fill="#5fab4c" stroke="#10240a" stroke-width="1.0"/>
<line x1="378.0" y1="475.95" x2="378.0" y2="483.05" stroke="#10240a" stroke-width="1.2"/>
<line x1="361.2" y1="488.5" x2="373.8" y2="488.5" stroke="#2a2a2a" stroke-width="1.05"/>
<line x1="386.7" y1="488.5" x2="402.8" y2="488.5" stroke="#2a2a2a" stroke-width="1.05"/>
<circle cx="407.0" cy="488.5" r="1.40" fill="#111"/>
<rect x="373.8" y="484.95" width="12.899999999999977" height="7.1" fill="#c8bf2c" stroke="#2a2800" stroke-width="1.0"/>
<line x1="380.3" y1="484.95" x2="380.3" y2="492.05" stroke="#2a2800" stroke-width="1.2"/>
<line x1="351.1" y1="498.5" x2="370.1" y2="498.5" stroke="#2a2a2a" stroke-width="1.05"/>
<line x1="388.9" y1="498.5" x2="406.5" y2="498.5" stroke="#2a2a2a" stroke-width="1.05"/>
<rect x="370.1" y="494.95" width="18.799999999999955" height="7.1" fill="#e6ae30" stroke="#2a1e00" stroke-width="1.0"/>
<line x1="378.8" y1="494.95" x2="378.8" y2="502.05" stroke="#2a1e00" stroke-width="1.2"/>
<line x1="402.8" y1="507.5" x2="408.3" y2="507.5" stroke="#2a2a2a" stroke-width="1.05"/>
<line x1="414.8" y1="507.5" x2="418.8" y2="507.5" stroke="#2a2a2a" stroke-width="1.05"/>
<rect x="408.3" y="503.95" width="6.5" height="7.1" fill="#e8a03c" stroke="#2a1a00" stroke-width="1.0"/>
<line x1="411.5" y1="503.95" x2="411.5" y2="511.05" stroke="#2a1a00" stroke-width="1.2"/>
<line x1="386.1" y1="516.5" x2="392.6" y2="516.5" stroke="#2a2a2a" stroke-width="1.05"/>
<line x1="399.1" y1="516.5" x2="405.5" y2="516.5" stroke="#2a2a2a" stroke-width="1.05"/>
<circle cx="408.3" cy="516.5" r="1.40" fill="#111"/>
<circle cx="410.1" cy="516.5" r="1.40" fill="#111"/>
<rect x="392.6" y="512.95" width="6.5" height="7.1" fill="#e8948c" stroke="#3a1010" stroke-width="1.0"/>
<line x1="395.8" y1="512.95" x2="395.8" y2="520.05" stroke="#3a1010" stroke-width="1.2"/>
<rect x="331.6" y="378.4" width="92.09999999999997" height="144.0" fill="none" stroke="#1e1e1e" stroke-width="1.25"/>
<line x1="328.3" y1="384.5" x2="331.6" y2="384.5" stroke="#333" stroke-width="1"/>
<line x1="328.3" y1="394.5" x2="331.6" y2="394.5" stroke="#333" stroke-width="1"/>
<line x1="328.3" y1="403.5" x2="331.6" y2="403.5" stroke="#333" stroke-width="1"/>
<line x1="328.3" y1="412.5" x2="331.6" y2="412.5" stroke="#333" stroke-width="1"/>
<line x1="328.3" y1="422.5" x2="331.6" y2="422.5" stroke="#333" stroke-width="1"/>
<line x1="328.3" y1="431.5" x2="331.6" y2="431.5" stroke="#333" stroke-width="1"/>
<line x1="328.3" y1="441.5" x2="331.6" y2="441.5" stroke="#333" stroke-width="1"/>
<line x1="328.3" y1="450.5" x2="331.6" y2="450.5" stroke="#333" stroke-width="1"/>
<line x1="328.3" y1="460.5" x2="331.6" y2="460.5" stroke="#333" stroke-width="1"/>
<line x1="328.3" y1="469.5" x2="331.6" y2="469.5" stroke="#333" stroke-width="1"/>
<line x1="328.3" y1="479.5" x2="331.6" y2="479.5" stroke="#333" stroke-width="1"/>
<line x1="328.3" y1="488.5" x2="331.6" y2="488.5" stroke="#333" stroke-width="1"/>
<line x1="328.3" y1="498.5" x2="331.6" y2="498.5" stroke="#333" stroke-width="1"/>
<line x1="328.3" y1="507.5" x2="331.6" y2="507.5" stroke="#333" stroke-width="1"/>
<line x1="328.3" y1="516.5" x2="331.6" y2="516.5" stroke="#333" stroke-width="1"/>
<line x1="332.3" y1="522.4" x2="332.3" y2="525.0" stroke="#333" stroke-width="1"/>
<text x="332.3" y="536.0" font-size="9.07" text-anchor="middle" font-weight="normal" font-style="normal" fill="#333" textLength="4.5" lengthAdjust="spacingAndGlyphs" stroke="#333" stroke-width="0.18">3</text>
<line x1="354.3" y1="522.4" x2="354.3" y2="525.0" stroke="#333" stroke-width="1"/>
<text x="354.3" y="536.0" font-size="9.07" text-anchor="middle" font-weight="normal" font-style="normal" fill="#333" textLength="4.5" lengthAdjust="spacingAndGlyphs" stroke="#333" stroke-width="0.18">6</text>
<line x1="375.4" y1="522.4" x2="375.4" y2="525.0" stroke="#333" stroke-width="1"/>
<text x="375.4" y="536.0" font-size="9.07" text-anchor="middle" font-weight="normal" font-style="normal" fill="#333" textLength="4.5" lengthAdjust="spacingAndGlyphs" stroke="#333" stroke-width="0.18">9</text>
<line x1="398.3" y1="522.4" x2="398.3" y2="525.0" stroke="#333" stroke-width="1"/>
<text x="398.3" y="536.0" font-size="9.07" text-anchor="middle" font-weight="normal" font-style="normal" fill="#333" textLength="9.01" lengthAdjust="spacingAndGlyphs" stroke="#333" stroke-width="0.18">12</text>
<line x1="421.1" y1="522.4" x2="421.1" y2="525.0" stroke="#333" stroke-width="1"/>
<text x="421.1" y="536.0" font-size="9.07" text-anchor="middle" font-weight="normal" font-style="normal" fill="#333" textLength="9.01" lengthAdjust="spacingAndGlyphs" stroke="#333" stroke-width="0.18">15</text>
<text x="376.8" y="373.7" font-size="9.65" text-anchor="middle" font-weight="normal" font-style="normal" fill="#222" textLength="30.7" lengthAdjust="spacingAndGlyphs" stroke="#222" stroke-width="0.18">HCLS1</text>
<text x="377.84999999999997" y="548.4" font-size="9.85" text-anchor="middle" font-weight="normal" font-style="normal" fill="#222" textLength="98.0" lengthAdjust="spacingAndGlyphs" stroke="#222" stroke-width="0.18">log2 (normalized counts)</text>
<rect x="0.5" y="0.5" width="519" height="556" fill="none" stroke="#000" stroke-width="1.2"/>
</svg>
</body></html>
